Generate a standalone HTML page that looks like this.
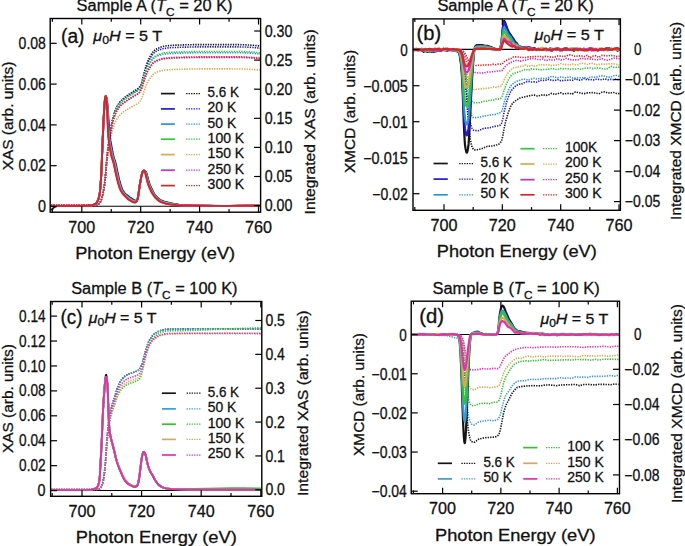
<!DOCTYPE html>
<html><head><meta charset="utf-8"><style>
html,body{margin:0;padding:0;background:#fff;}
svg{display:block;}
text{font-family:"Liberation Sans", sans-serif;fill:#111;stroke:#111;stroke-width:0.3px;}
</style></head><body>
<svg width="685" height="546" viewBox="0 0 685 546">
<rect width="685" height="546" fill="#fff"/>
<line x1="50.9" y1="206.2" x2="259.9" y2="206.2" stroke="#000" stroke-width="1.1"/>
<polyline points="50.9,205.3 64.9,205.3 78.9,205.2 92.9,205.0 96.1,204.9 98.2,204.3 98.9,203.9 99.9,202.6 100.3,202.1 100.6,201.4 101.3,199.6 101.7,198.5 102.0,197.3 102.4,195.9 103.1,192.8 103.4,191.0 103.8,189.0 104.1,186.8 104.5,184.4 104.8,181.6 105.2,178.5 105.5,175.0 105.9,170.8 106.2,166.0 106.6,161.6 106.9,157.8 107.3,154.2 107.6,150.8 108.0,147.7 108.3,144.9 108.7,142.2 109.0,139.7 109.4,137.3 110.1,132.8 111.1,126.7 111.8,122.9 112.5,119.5 112.9,118.0 113.6,115.4 114.6,112.0 115.7,109.1 116.7,106.8 117.8,104.9 119.2,102.8 120.9,100.8 123.0,98.8 126.9,95.7 132.1,92.2 136.7,89.5 138.1,88.5 139.1,87.5 139.8,86.5 140.5,85.2 140.9,84.4 141.6,82.5 142.3,80.2 143.0,77.5 144.4,71.8 145.1,69.4 146.1,65.9 147.2,62.8 147.9,61.0 148.9,58.8 150.3,56.2 152.4,52.6 153.5,51.2 155.2,49.8 157.0,48.7 160.5,47.2 163.6,46.3 167.5,45.7 174.5,45.2 188.5,44.7 202.5,44.6 216.5,44.6 230.5,44.6 243.8,44.7 253.6,45.3 259.9,46.0" fill="none" stroke="#151515" stroke-width="1.6" stroke-linejoin="round" stroke-dasharray="1.35,1.15"/>
<polyline points="50.9,205.3 64.9,205.3 78.9,205.2 92.9,205.0 96.1,204.9 98.2,204.4 98.9,203.9 99.9,202.7 100.3,202.1 100.6,201.4 101.3,199.6 101.7,198.6 102.0,197.4 102.4,196.0 103.1,192.9 103.4,191.1 103.8,189.1 104.1,187.0 104.5,184.6 104.8,181.9 105.2,178.8 105.5,175.3 105.9,171.1 106.2,166.4 106.6,162.0 106.9,158.2 107.3,154.7 107.6,151.4 108.0,148.3 108.3,145.5 108.7,142.8 109.0,140.3 109.7,135.7 110.4,131.5 111.5,125.5 112.2,122.0 112.5,120.3 112.9,118.8 113.6,116.3 114.6,112.9 115.7,110.1 116.7,107.8 117.8,105.9 119.2,103.9 120.9,101.8 123.0,99.8 126.9,96.8 132.1,93.3 136.7,90.7 138.4,89.4 139.1,88.7 139.8,87.7 140.5,86.4 140.9,85.7 141.6,83.8 142.3,81.6 143.0,79.0 144.4,73.4 145.1,71.0 146.5,66.6 147.2,64.6 147.9,62.9 148.9,60.7 150.3,58.2 152.4,54.7 153.5,53.3 155.2,51.9 157.3,50.7 161.2,49.2 164.3,48.4 170.3,47.7 181.5,47.2 195.5,46.9 209.5,46.9 223.5,46.9 237.5,46.9 245.2,47.0 254.3,47.6 259.9,48.2" fill="none" stroke="#2418d0" stroke-width="1.6" stroke-linejoin="round" stroke-dasharray="1.35,1.15"/>
<polyline points="50.9,205.3 64.9,205.3 78.9,205.2 92.9,205.0 96.1,204.9 98.2,204.4 98.9,203.9 99.9,202.7 100.3,202.2 100.6,201.5 101.3,199.7 101.7,198.7 102.0,197.5 102.4,196.1 103.1,193.0 103.4,191.2 103.8,189.3 104.1,187.1 104.5,184.7 104.8,182.1 105.2,179.0 105.5,175.6 105.9,171.4 106.2,166.7 106.6,162.4 106.9,158.6 107.3,155.1 107.6,151.8 108.0,148.8 108.3,146.0 108.7,143.4 109.0,140.9 109.7,136.2 110.4,132.1 111.5,126.2 112.2,122.6 112.5,121.0 112.9,119.5 113.6,117.0 114.6,113.7 115.7,110.9 116.7,108.6 117.8,106.7 119.2,104.7 120.9,102.6 123.0,100.7 126.9,97.7 132.1,94.2 137.0,91.4 138.4,90.4 139.5,89.3 140.5,87.7 140.9,87.0 141.6,85.3 142.3,83.4 143.0,81.1 144.4,76.2 145.4,73.0 146.5,70.1 147.5,67.6 148.6,65.6 150.0,63.2 152.4,59.6 153.5,58.5 155.2,57.2 157.3,56.1 161.2,54.8 164.3,54.1 170.6,53.5 184.6,53.0 198.6,52.7 212.6,52.7 226.6,52.7 240.6,52.7 250.8,53.1 259.2,53.9 259.9,53.9" fill="none" stroke="#2a98cc" stroke-width="1.6" stroke-linejoin="round" stroke-dasharray="1.35,1.15"/>
<polyline points="50.9,205.3 64.9,205.3 78.9,205.2 92.9,205.0 96.1,204.9 98.2,204.4 98.9,203.9 99.9,202.7 100.3,202.2 100.6,201.5 101.3,199.7 101.7,198.6 102.0,197.4 102.4,196.1 103.1,193.0 103.4,191.2 103.8,189.2 104.1,187.1 104.5,184.7 104.8,182.0 105.2,178.9 105.5,175.5 105.9,171.3 106.2,166.6 106.6,162.2 106.9,158.5 107.3,155.0 107.6,151.7 108.0,148.6 108.3,145.8 108.7,143.2 109.0,140.7 109.7,136.0 110.4,131.8 111.5,125.9 112.2,122.4 112.5,120.8 112.9,119.3 113.6,116.7 114.6,113.4 115.7,110.6 116.7,108.3 117.8,106.4 119.2,104.4 120.9,102.3 123.0,100.4 126.9,97.4 132.1,93.9 137.0,91.1 138.4,90.1 139.1,89.4 140.2,87.9 140.9,86.6 141.6,84.9 142.3,82.9 143.0,80.5 144.4,75.5 145.1,73.3 146.5,69.3 147.5,66.7 148.6,64.6 150.0,62.3 152.4,58.6 153.5,57.4 155.2,56.1 157.3,55.0 161.2,53.6 164.3,52.9 170.6,52.3 184.6,51.8 198.6,51.5 212.6,51.5 226.6,51.5 240.6,51.5 250.8,51.9 259.2,52.7 259.9,52.8" fill="none" stroke="#30c83c" stroke-width="1.6" stroke-linejoin="round" stroke-dasharray="1.35,1.15"/>
<polyline points="50.9,205.3 64.9,205.3 78.9,205.3 92.9,205.1 96.1,205.0 98.2,204.5 98.9,204.1 99.9,203.0 100.3,202.5 100.6,201.9 101.3,200.3 101.7,199.4 102.0,198.4 102.4,197.2 103.1,194.4 103.4,192.8 103.8,191.1 104.1,189.1 104.5,187.0 104.8,184.7 105.2,181.9 105.5,178.9 105.9,175.2 106.2,171.0 106.6,167.1 106.9,163.8 107.3,160.7 107.6,157.7 108.0,155.0 108.3,152.5 108.7,150.2 109.4,145.9 110.1,142.0 111.1,136.6 111.8,133.3 112.5,130.3 112.9,129.0 113.6,126.7 114.6,123.8 115.7,121.3 116.7,119.2 117.8,117.6 119.2,115.8 120.9,114.0 123.0,112.2 126.9,109.6 132.5,106.3 137.0,104.0 138.4,103.1 139.5,102.1 140.5,100.6 141.2,99.3 142.3,96.7 143.0,94.6 144.4,90.2 145.4,87.3 146.5,84.7 147.5,82.4 148.6,80.5 150.3,78.0 152.4,75.2 153.5,74.1 155.2,73.0 157.3,72.0 161.5,70.7 165.0,70.1 172.4,69.5 186.4,69.1 200.4,68.9 214.4,68.9 228.4,68.9 242.4,69.0 253.9,69.5 259.9,70.0" fill="none" stroke="#e0a848" stroke-width="1.6" stroke-linejoin="round" stroke-dasharray="1.35,1.15"/>
<polyline points="50.9,205.3 64.9,205.3 78.9,205.2 92.9,205.1 96.1,204.9 98.2,204.4 98.9,203.9 99.9,202.8 100.3,202.3 100.6,201.6 101.3,199.8 101.7,198.8 102.0,197.7 102.4,196.3 103.1,193.3 103.4,191.6 103.8,189.7 104.1,187.6 104.5,185.3 104.8,182.7 105.2,179.6 105.5,176.3 105.9,172.2 106.2,167.7 106.6,163.4 106.9,159.8 107.3,156.3 107.6,153.1 108.0,150.2 108.3,147.4 108.7,144.9 109.0,142.4 109.7,137.9 110.4,133.9 111.5,128.1 112.2,124.7 112.5,123.1 112.9,121.6 113.6,119.1 114.6,115.9 115.7,113.2 116.7,110.9 117.8,109.1 119.2,107.2 120.9,105.2 123.0,103.3 126.9,100.3 132.1,96.9 137.0,94.2 138.4,93.3 139.5,92.2 140.5,90.6 141.2,89.2 141.9,87.4 142.6,85.4 144.4,79.5 145.4,76.4 146.5,73.6 147.5,71.2 148.6,69.2 150.0,67.0 152.4,63.5 153.5,62.4 155.2,61.2 157.3,60.1 161.2,58.9 164.7,58.1 171.7,57.5 185.7,57.1 199.7,56.9 213.7,56.9 227.7,56.9 241.7,56.9 252.9,57.4 259.9,58.0" fill="none" stroke="#cc30c8" stroke-width="1.6" stroke-linejoin="round" stroke-dasharray="1.35,1.15"/>
<polyline points="50.9,205.3 64.9,205.3 78.9,205.2 92.9,205.1 96.1,204.9 98.2,204.4 98.9,203.9 99.9,202.8 100.3,202.3 100.6,201.6 101.3,199.9 101.7,198.9 102.0,197.7 102.4,196.4 103.1,193.3 103.4,191.6 103.8,189.7 104.1,187.6 104.5,185.3 104.8,182.7 105.2,179.7 105.5,176.4 105.9,172.3 106.2,167.8 106.6,163.5 106.9,159.9 107.3,156.5 107.6,153.3 108.0,150.3 108.3,147.6 108.7,145.1 109.0,142.6 109.7,138.2 110.4,134.1 111.5,128.4 112.2,124.9 112.5,123.3 112.9,121.9 113.6,119.4 114.6,116.2 115.7,113.5 116.7,111.2 117.8,109.4 119.2,107.5 120.9,105.5 123.0,103.6 126.9,100.7 132.1,97.3 137.0,94.6 138.4,93.6 139.5,92.6 140.5,91.0 141.2,89.6 141.9,87.8 142.6,85.8 144.4,79.9 145.4,76.9 146.5,74.1 147.5,71.7 148.6,69.7 150.0,67.5 152.4,64.1 153.5,62.9 155.2,61.7 157.3,60.7 161.5,59.3 164.7,58.7 171.7,58.1 185.7,57.6 199.7,57.4 213.7,57.4 227.7,57.4 241.7,57.4 252.9,57.9 259.9,58.6" fill="none" stroke="#d42828" stroke-width="1.6" stroke-linejoin="round" stroke-dasharray="1.35,1.15"/>
<polyline points="50.9,209.8 51.6,209.5 53.0,208.4 54.4,207.1 55.5,206.5 56.9,206.1 60.0,206.0 74.0,206.0 88.0,205.8 90.8,205.5 93.6,204.8 95.0,204.1 96.1,203.4 96.8,202.5 97.5,201.2 98.2,199.6 98.5,198.7 98.9,197.5 99.2,196.1 99.6,194.4 99.9,192.0 100.3,188.4 100.6,184.0 101.0,179.2 101.3,173.2 101.7,165.3 102.0,156.6 102.4,148.1 102.7,139.4 103.1,131.3 103.4,123.7 103.8,116.6 104.1,110.6 104.5,105.5 104.8,101.2 105.2,98.4 105.5,96.5 105.9,96.0 106.2,96.8 106.6,98.1 106.9,101.1 107.3,105.2 107.6,109.7 108.0,115.8 108.3,122.5 108.7,128.0 109.0,132.4 109.4,136.3 109.7,139.3 110.1,141.5 110.8,145.1 111.8,150.9 112.5,154.3 112.9,155.8 113.2,157.1 114.3,160.2 115.0,162.6 115.3,163.9 115.7,165.5 116.7,170.6 118.1,176.9 118.8,179.8 119.9,183.8 120.6,186.1 121.3,188.2 122.0,189.8 123.0,191.7 124.1,193.2 125.1,194.3 127.6,196.3 129.3,197.7 131.4,199.0 132.8,200.1 134.9,201.1 135.3,201.1 136.0,200.9 136.7,200.4 137.0,199.9 137.4,199.2 137.7,198.2 138.1,196.7 138.8,191.8 139.8,184.8 140.2,182.7 140.9,178.8 141.2,177.1 141.6,175.6 142.3,173.1 142.6,172.1 143.0,171.5 143.7,170.8 144.0,170.6 144.4,170.6 144.7,170.9 145.4,171.8 145.8,172.3 146.1,173.3 147.5,178.1 148.6,182.0 148.9,183.2 149.6,185.1 150.7,187.5 152.8,191.9 153.8,193.7 155.2,195.7 156.6,197.3 158.7,199.2 160.8,200.6 162.6,201.5 167.8,202.9 174.1,204.2 180.8,205.1 187.4,205.5 201.4,205.8 215.4,205.9 229.4,205.9 243.4,205.8 257.4,205.6 259.9,205.6" fill="none" stroke="#151515" stroke-width="1.9" stroke-linejoin="round"/>
<polyline points="50.9,205.9 64.9,206.0 78.9,206.0 89.1,205.7 92.2,205.2 94.0,204.7 95.4,203.9 96.1,203.4 96.8,202.5 97.5,201.2 98.2,199.6 98.5,198.7 98.9,197.5 99.2,196.1 99.6,194.4 99.9,192.0 100.3,188.4 100.6,184.0 101.0,179.2 101.3,173.2 101.7,165.3 102.0,156.7 102.4,148.2 102.7,139.5 103.1,131.4 103.4,123.9 103.8,116.8 104.1,110.8 104.5,105.8 104.8,101.7 105.2,99.2 105.5,97.8 105.9,97.5 106.6,98.6 106.9,100.2 107.3,103.2 107.6,106.8 108.0,110.8 108.3,116.0 108.7,121.6 109.0,126.6 109.4,130.7 109.7,134.6 110.1,137.9 110.4,140.4 110.8,142.5 111.5,146.1 112.2,150.0 112.5,151.8 113.2,155.1 113.6,156.6 113.9,157.7 114.6,159.7 115.3,162.0 115.7,163.3 116.0,164.8 116.7,168.1 117.4,171.5 118.8,177.8 119.5,180.6 120.6,184.4 121.3,186.7 121.6,187.7 122.3,189.4 123.4,191.4 124.4,192.9 125.5,193.9 127.9,195.7 129.7,197.2 131.4,198.3 133.2,199.7 134.9,200.6 135.3,200.7 136.0,200.6 136.7,200.1 137.0,199.7 137.4,198.9 137.7,198.0 138.1,196.5 138.8,191.7 139.8,184.7 140.2,182.7 140.9,178.9 141.2,177.2 141.6,175.7 142.3,173.2 142.6,172.2 143.0,171.5 143.7,170.8 144.0,170.6 144.4,170.6 144.7,170.7 145.4,171.4 146.1,172.4 146.5,173.3 147.5,176.7 148.2,179.2 148.9,181.9 149.3,183.1 150.0,185.0 151.0,187.4 153.5,192.4 154.5,194.1 155.9,196.0 157.3,197.5 159.8,199.5 161.9,200.7 163.6,201.4 171.7,203.4 178.7,204.7 183.9,205.3 193.7,205.7 207.7,205.8 221.7,205.9 235.7,205.9 249.7,205.7 259.9,205.6" fill="none" stroke="#2418d0" stroke-width="1.9" stroke-linejoin="round"/>
<polyline points="50.9,205.9 64.9,206.0 78.9,206.0 89.1,205.7 92.2,205.2 94.0,204.7 95.4,203.9 96.1,203.4 96.8,202.5 97.5,201.2 98.2,199.6 98.5,198.7 98.9,197.5 99.2,196.1 99.6,194.4 99.9,192.0 100.3,188.4 100.6,184.0 101.0,179.2 101.3,173.2 101.7,165.3 102.0,156.6 102.4,148.0 102.7,139.3 103.1,131.2 103.4,123.6 103.8,116.5 104.1,110.5 104.5,105.4 104.8,101.1 105.2,98.3 105.5,96.4 105.9,96.1 106.2,96.9 106.6,98.5 106.9,101.9 107.3,106.5 107.6,111.9 108.0,119.1 108.3,126.0 108.7,131.0 109.0,135.4 109.4,138.8 109.7,141.2 110.1,143.1 110.4,144.9 111.5,150.6 111.8,152.4 112.5,155.6 112.9,156.9 113.2,158.0 113.9,160.0 114.6,162.4 115.0,163.7 115.3,165.2 116.7,172.0 118.1,178.2 118.8,181.0 119.9,184.8 120.6,187.1 120.9,188.1 121.6,189.7 122.7,191.7 123.7,193.3 124.8,194.4 127.6,196.8 129.0,198.0 131.4,199.5 132.8,200.5 134.9,201.4 135.3,201.4 136.0,201.2 136.7,200.6 137.0,200.1 137.4,199.3 137.7,198.3 138.1,196.8 138.8,191.9 139.8,184.8 140.2,182.7 140.9,178.8 141.2,177.1 141.6,175.6 142.3,173.0 142.6,172.0 143.0,171.4 143.7,170.7 144.0,170.6 144.4,170.7 144.7,171.0 145.4,172.0 145.8,172.7 146.1,173.8 147.5,178.9 148.2,181.6 148.6,182.9 148.9,183.9 149.6,185.7 151.7,190.2 152.8,192.4 153.8,194.1 155.2,196.1 156.6,197.7 159.1,199.8 161.2,201.1 162.9,201.8 167.8,203.1 173.8,204.3 180.8,205.1 188.1,205.5 202.1,205.8 216.1,205.9 230.1,205.9 244.1,205.8 258.1,205.6 259.9,205.6" fill="none" stroke="#2a98cc" stroke-width="1.9" stroke-linejoin="round"/>
<polyline points="50.9,205.9 64.9,206.0 78.9,206.0 89.1,205.7 92.2,205.2 94.0,204.7 95.4,203.9 96.1,203.4 96.8,202.5 97.5,201.2 98.2,199.6 98.5,198.7 98.9,197.5 99.2,196.1 99.6,194.4 99.9,192.0 100.3,188.4 100.6,184.0 101.0,179.2 101.3,173.1 101.7,165.3 102.0,156.5 102.4,148.0 102.7,139.3 103.1,131.2 103.4,123.6 103.8,116.5 104.1,110.4 104.5,105.3 104.8,101.0 105.2,98.2 105.5,96.4 105.9,96.1 106.2,97.0 106.6,98.8 106.9,102.6 107.3,107.4 107.6,113.6 108.0,121.3 108.3,127.9 108.7,132.9 109.0,137.1 109.4,140.1 109.7,142.2 110.4,145.9 111.1,149.8 111.5,151.6 112.2,154.9 112.5,156.4 112.9,157.6 113.6,159.6 114.3,161.9 114.6,163.1 115.0,164.6 115.7,167.9 116.4,171.3 117.8,177.6 118.5,180.4 119.5,184.3 120.2,186.6 120.6,187.7 121.3,189.4 122.3,191.5 123.4,193.1 124.4,194.3 127.6,197.1 129.0,198.3 131.4,199.7 132.8,200.7 134.9,201.5 135.3,201.6 136.0,201.3 136.7,200.7 137.0,200.2 137.4,199.4 137.7,198.4 138.1,196.8 138.8,191.9 139.8,184.8 140.2,182.7 140.9,178.8 141.2,177.1 141.6,175.6 142.3,172.9 142.6,172.0 143.0,171.4 143.7,170.7 144.0,170.6 144.4,170.7 144.7,171.1 145.4,172.1 145.8,173.0 146.8,176.8 148.2,182.2 148.6,183.4 149.3,185.3 150.3,187.6 152.4,192.0 153.5,193.9 154.9,195.9 156.3,197.5 158.4,199.4 160.5,200.9 162.2,201.8 166.8,203.0 172.0,204.1 179.7,205.1 186.4,205.5 200.4,205.8 214.4,205.9 228.4,205.9 242.4,205.8 256.4,205.7 259.9,205.6" fill="none" stroke="#30c83c" stroke-width="1.9" stroke-linejoin="round"/>
<polyline points="50.9,205.9 64.9,206.0 78.9,206.0 89.1,205.7 92.2,205.2 94.0,204.7 95.4,203.9 96.1,203.4 96.8,202.5 97.5,201.2 98.2,199.6 98.5,198.7 98.9,197.5 99.2,196.1 99.6,194.4 99.9,192.0 100.3,188.3 100.6,184.0 101.0,179.2 101.3,173.1 101.7,165.2 102.0,156.5 102.4,147.9 102.7,139.2 103.1,131.0 103.4,123.4 103.8,116.3 104.1,110.3 104.5,105.3 104.8,101.3 105.2,98.8 105.5,97.2 105.9,97.1 106.2,98.0 106.6,100.0 106.9,104.4 107.3,109.9 108.0,126.3 108.3,132.2 108.7,137.0 109.0,140.3 109.4,142.6 110.8,150.5 111.1,152.3 111.8,155.5 112.2,156.9 112.5,158.0 113.2,160.0 113.9,162.4 114.3,163.7 114.6,165.2 116.0,172.0 117.4,178.2 118.1,181.0 119.2,184.8 119.9,187.1 120.2,188.1 120.9,189.7 122.0,191.8 123.0,193.4 124.1,194.6 126.5,196.9 128.3,198.6 132.8,201.4 134.6,202.0 135.3,202.1 136.0,201.7 136.7,201.1 137.0,200.5 137.4,199.7 137.7,198.6 138.1,197.0 138.8,192.0 139.8,184.8 140.2,182.7 140.9,178.8 141.2,177.0 141.9,174.1 142.3,172.8 142.6,171.9 143.0,171.3 143.3,170.9 143.7,170.7 144.0,170.6 144.4,170.8 145.1,171.9 145.4,172.7 145.8,173.9 147.2,179.4 147.9,182.2 148.2,183.4 148.9,185.4 150.0,187.8 152.1,192.2 153.1,194.0 154.5,196.0 155.9,197.7 158.0,199.6 160.1,201.2 161.9,202.0 166.1,203.3 170.6,204.2 179.0,205.1 186.7,205.5 200.7,205.8 214.7,205.9 228.7,205.9 242.7,205.8 256.7,205.7 259.9,205.6" fill="none" stroke="#e0a848" stroke-width="1.9" stroke-linejoin="round"/>
<polyline points="50.9,205.9 64.9,206.0 78.9,206.0 89.1,205.7 92.2,205.2 94.0,204.7 95.4,203.9 96.1,203.4 96.8,202.5 97.5,201.2 98.2,199.6 98.5,198.7 98.9,197.5 99.2,196.1 99.6,194.4 99.9,192.0 100.3,188.3 100.6,184.0 101.0,179.2 101.3,173.1 101.7,165.2 102.0,156.5 102.4,147.9 102.7,139.1 103.1,131.0 103.4,123.3 103.8,116.2 104.1,110.1 104.5,104.9 104.8,100.6 105.2,97.9 105.5,96.2 105.9,96.3 106.2,97.4 106.6,100.2 106.9,105.2 107.3,111.6 107.6,120.7 108.0,128.6 108.3,134.5 108.7,138.9 109.0,141.7 109.4,143.9 110.4,150.0 110.8,151.9 111.5,155.3 111.8,156.7 112.2,157.9 112.9,159.9 113.6,162.2 113.9,163.5 114.3,165.0 115.7,171.8 117.1,178.0 117.8,180.8 118.8,184.7 119.5,187.0 119.9,188.0 120.6,189.6 121.6,191.7 122.7,193.3 123.7,194.6 126.2,197.0 127.9,198.8 129.3,199.8 132.5,201.7 134.6,202.3 135.3,202.3 136.0,202.0 136.7,201.3 137.0,200.7 137.4,199.8 137.7,198.8 138.1,197.2 138.8,192.1 139.8,184.9 140.2,182.7 140.9,178.7 141.2,177.0 141.9,174.0 142.3,172.8 142.6,171.8 143.3,170.9 143.7,170.6 144.0,170.6 144.4,170.9 145.1,172.1 145.4,173.1 146.8,178.7 147.5,181.7 147.9,183.0 148.2,184.1 148.9,185.9 151.0,190.5 152.1,192.7 153.1,194.4 154.5,196.4 155.9,198.0 158.4,200.2 160.5,201.6 162.2,202.4 166.1,203.6 170.3,204.4 178.7,205.2 187.1,205.5 201.1,205.8 215.1,205.9 229.1,205.9 243.1,205.8 257.1,205.6 259.9,205.6" fill="none" stroke="#cc30c8" stroke-width="1.9" stroke-linejoin="round"/>
<polyline points="50.9,205.9 64.9,206.0 78.9,206.0 89.1,205.7 92.2,205.2 94.0,204.7 95.4,203.9 96.1,203.4 96.8,202.5 97.5,201.2 98.2,199.6 98.5,198.7 98.9,197.5 99.2,196.1 99.6,194.3 99.9,192.0 100.3,188.3 100.6,184.0 101.0,179.2 101.3,173.1 101.7,165.2 102.0,156.4 102.4,147.8 102.7,139.1 103.1,130.9 103.4,123.2 103.8,116.1 104.1,110.0 104.5,104.8 104.8,100.5 105.2,97.8 105.5,96.1 105.9,96.3 106.2,97.6 106.6,100.8 106.9,106.3 107.3,113.6 107.6,123.4 108.0,130.8 108.3,136.6 108.7,140.4 109.0,142.9 110.1,149.4 110.4,151.4 110.8,153.3 111.1,154.9 111.5,156.4 111.8,157.7 112.5,159.7 113.2,162.0 113.6,163.3 113.9,164.8 114.6,168.1 115.3,171.5 116.7,177.8 117.4,180.6 118.5,184.5 119.2,186.8 119.5,187.8 120.2,189.5 121.3,191.6 122.3,193.3 123.4,194.5 125.8,197.1 127.6,198.9 129.0,199.9 132.5,202.0 134.6,202.6 135.3,202.6 136.0,202.1 136.7,201.4 137.0,200.8 137.4,199.9 137.7,198.9 138.1,197.2 138.8,192.2 139.8,184.9 140.2,182.7 140.9,178.7 141.2,176.9 141.9,174.0 142.3,172.7 142.6,171.8 143.3,170.9 143.7,170.6 144.0,170.7 144.4,171.0 144.7,171.6 145.1,172.3 145.4,173.5 146.8,179.5 147.5,182.4 147.9,183.6 148.6,185.6 149.6,188.0 151.7,192.5 152.8,194.3 154.2,196.3 155.6,198.0 158.0,200.2 160.1,201.7 161.9,202.5 165.7,203.7 169.6,204.4 177.6,205.2 186.4,205.5 200.4,205.8 214.4,205.9 228.4,205.9 242.4,205.8 256.4,205.7 259.9,205.6" fill="none" stroke="#d42828" stroke-width="1.9" stroke-linejoin="round"/>
<line x1="413.7" y1="49.4" x2="619.7" y2="49.4" stroke="#000" stroke-width="1.1"/>
<polyline points="413.7,48.8 418.5,48.9 420.3,49.0 422.7,49.3 426.0,49.2 432.3,49.5 437.4,49.4 441.3,49.1 446.7,49.2 452.1,49.5 455.4,49.2 457.5,49.6 458.7,50.1 459.3,50.5 459.9,51.2 461.1,53.1 461.4,53.8 461.7,54.7 462.3,56.9 462.6,58.2 462.9,59.6 463.2,61.3 463.5,63.2 463.8,65.4 464.1,68.0 464.4,71.0 465.0,77.8 465.3,81.3 465.6,85.1 466.2,93.0 467.1,105.4 467.4,109.3 467.7,113.0 468.0,116.5 468.6,123.2 469.2,129.7 469.5,132.7 469.8,135.2 470.1,137.5 470.4,139.6 470.7,141.4 471.0,143.0 471.6,145.5 471.9,146.6 472.2,147.5 472.5,148.0 473.4,149.3 474.0,149.8 474.6,149.9 477.9,149.6 481.2,148.9 487.2,146.4 493.2,145.9 497.1,144.7 499.2,143.9 500.1,143.1 500.7,142.3 501.3,141.2 501.6,140.5 501.9,139.5 502.5,137.0 502.8,135.6 504.0,129.0 504.9,124.8 506.1,120.0 507.0,116.8 508.2,113.0 509.7,108.8 510.3,107.3 510.9,106.0 511.8,104.5 513.0,102.9 513.9,102.0 515.4,100.9 516.9,100.0 519.3,98.3 519.9,98.1 523.2,97.1 525.6,96.8 528.9,95.8 532.2,95.3 534.3,95.1 537.3,96.0 540.3,95.5 543.0,94.7 546.0,95.5 549.3,94.4 551.7,93.3 552.0,93.3 554.7,94.3 555.9,94.1 558.6,93.4 560.7,92.8 563.7,94.0 566.7,93.4 569.7,93.4 572.4,94.0 575.4,92.0 582.6,93.4 584.4,93.6 587.4,92.9 591.3,92.7 593.1,92.6 598.8,93.7 599.7,93.4 601.8,92.3 604.8,91.7 607.8,93.0 611.4,92.8 613.5,92.5 616.5,93.5 619.5,93.6" fill="none" stroke="#151515" stroke-width="1.6" stroke-linejoin="round" stroke-dasharray="1.35,1.15"/>
<polyline points="413.7,49.2 417.0,49.7 419.7,49.6 422.7,49.0 427.5,49.1 429.0,49.1 431.7,49.4 434.7,49.3 437.1,49.5 440.1,48.7 443.1,49.9 446.1,49.3 449.1,49.6 453.0,49.4 455.4,49.4 457.5,50.0 459.3,50.6 460.2,51.4 461.1,52.6 461.4,53.2 461.7,53.9 462.3,55.8 462.6,56.8 462.9,58.0 463.2,59.4 463.5,61.0 463.8,62.7 464.1,64.8 464.4,67.2 465.0,72.6 465.3,75.4 465.9,81.5 466.5,88.0 467.1,94.7 467.4,97.9 468.0,103.7 468.6,109.2 469.2,114.5 469.5,116.9 469.8,118.9 470.1,120.8 470.4,122.4 470.7,123.9 471.0,125.2 471.6,127.2 471.9,128.0 472.2,128.7 472.8,129.5 473.7,130.3 474.3,130.6 475.8,130.5 478.2,130.8 479.4,130.4 483.6,128.5 484.5,128.3 488.1,128.0 490.5,127.5 495.9,126.1 499.2,125.7 500.1,125.2 500.7,124.6 501.3,123.7 501.6,123.1 501.9,122.3 502.5,120.0 502.8,118.7 504.0,112.8 504.9,108.9 506.1,104.2 507.0,100.9 507.6,99.0 508.2,97.3 510.0,93.0 510.6,91.9 511.8,90.0 513.0,88.6 515.4,86.2 516.6,85.2 519.0,84.3 519.9,84.0 520.2,84.1 522.6,83.6 525.3,82.2 528.3,81.5 531.3,82.0 534.3,81.8 537.0,82.2 537.3,82.1 540.0,80.4 540.9,80.4 543.3,80.5 546.3,80.1 549.0,79.3 552.0,80.4 554.7,80.5 557.7,79.5 560.7,80.8 564.3,80.4 569.7,80.0 572.4,80.4 575.4,78.8 578.4,80.1 581.1,80.1 581.7,79.8 584.1,78.5 584.4,78.5 587.1,79.8 590.1,79.4 593.1,80.1 596.1,79.2 601.8,79.7 604.8,78.8 607.8,79.8 610.8,79.3 613.5,79.6 616.5,78.9 619.5,80.0" fill="none" stroke="#2418d0" stroke-width="1.6" stroke-linejoin="round" stroke-dasharray="1.35,1.15"/>
<polyline points="413.7,49.2 417.0,49.6 422.7,49.5 425.4,49.8 428.4,48.8 431.7,49.0 434.4,48.8 440.4,49.6 443.4,49.3 446.1,49.5 449.1,48.7 452.1,49.4 454.8,49.1 456.9,50.0 457.8,50.4 459.3,50.7 460.2,51.2 461.1,52.2 461.4,52.7 462.0,54.1 462.6,55.9 462.9,56.9 463.2,58.1 463.5,59.5 463.8,60.9 464.1,62.7 464.4,64.6 465.0,69.1 465.3,71.4 465.9,76.5 466.5,81.8 467.1,87.5 467.4,90.1 468.0,95.0 468.9,101.8 469.2,104.0 469.5,106.1 469.8,107.8 470.1,109.4 470.4,110.9 470.7,112.2 471.0,113.2 471.6,115.0 471.9,115.8 472.2,116.4 472.5,116.9 473.4,117.6 474.0,117.9 477.3,117.6 481.2,116.8 484.5,115.9 490.8,115.0 493.2,114.5 495.9,114.4 498.6,113.1 498.9,113.0 499.8,112.8 500.7,112.4 501.3,111.8 501.6,111.4 501.9,110.8 502.5,108.9 503.1,106.7 504.0,103.1 504.9,100.0 506.4,95.5 507.3,93.1 508.5,90.3 510.0,87.2 510.6,86.1 511.5,85.1 513.0,83.8 515.7,81.9 517.5,81.1 520.5,80.1 522.6,79.3 525.3,79.2 528.3,80.2 531.9,78.9 534.3,78.2 537.0,79.1 537.6,79.0 540.0,78.3 543.3,78.5 546.0,78.4 549.3,77.3 551.7,76.3 552.0,76.2 555.0,77.2 557.7,77.7 560.7,77.0 564.9,77.6 566.7,77.8 569.4,76.8 570.0,76.9 572.4,77.9 575.4,78.2 578.7,77.8 584.4,77.8 587.1,78.6 590.1,77.1 593.4,77.0 596.1,77.3 599.1,76.2 601.8,75.8 605.1,76.3 607.8,77.1 610.8,77.1 613.5,75.7 616.5,75.4 619.5,76.5" fill="none" stroke="#2a98cc" stroke-width="1.6" stroke-linejoin="round" stroke-dasharray="1.35,1.15"/>
<polyline points="413.7,49.8 416.7,48.2 419.4,49.5 420.0,49.5 422.7,49.3 425.7,49.6 428.4,49.4 431.4,49.9 434.7,49.2 437.4,49.1 440.4,49.5 444.0,49.4 446.7,49.2 449.7,49.3 452.4,49.6 455.4,49.6 457.8,49.5 459.3,49.8 460.2,50.3 461.1,51.1 461.7,51.9 462.6,53.7 462.9,54.4 463.5,56.3 463.8,57.5 464.1,58.9 464.4,60.6 465.0,64.4 465.6,68.4 466.5,75.0 467.1,79.3 467.7,83.1 468.3,86.6 469.2,91.5 469.8,94.4 470.4,96.9 470.7,97.9 471.3,99.6 471.9,101.0 472.2,101.5 472.5,101.9 473.7,102.6 474.6,102.7 475.8,102.6 478.2,102.9 481.2,102.2 484.2,101.2 487.2,101.2 490.2,100.0 492.9,100.4 493.5,100.2 495.9,99.1 499.2,99.1 500.4,98.6 501.3,97.8 501.6,97.4 501.9,96.9 502.5,95.4 503.1,93.5 504.0,90.6 505.2,87.1 506.7,83.3 507.6,81.3 508.8,79.1 510.3,76.6 511.2,75.5 512.7,74.2 513.9,73.5 516.0,72.7 519.9,71.4 520.2,71.5 523.5,70.0 525.3,69.4 526.2,69.6 528.3,70.4 531.3,68.8 534.3,69.3 537.3,69.1 540.0,69.9 543.3,69.5 546.6,69.4 549.3,69.1 552.0,68.4 555.9,69.3 557.7,69.6 560.7,68.5 563.7,68.9 566.7,68.4 569.7,69.2 572.7,68.9 575.7,69.0 578.4,68.7 581.1,69.5 581.4,69.5 584.1,68.2 589.2,68.0 590.1,67.9 593.1,68.7 596.1,67.9 599.1,67.9 602.1,68.8 604.8,69.0 607.8,68.6 610.5,66.4 610.8,66.3 613.5,67.4 619.5,67.3" fill="none" stroke="#30c83c" stroke-width="1.6" stroke-linejoin="round" stroke-dasharray="1.35,1.15"/>
<polyline points="413.7,49.4 417.0,48.8 420.3,48.5 422.4,48.2 426.0,49.2 428.4,49.6 431.7,49.3 437.4,49.6 440.1,49.0 443.1,50.2 446.1,49.0 449.4,49.6 451.8,50.2 453.3,49.8 454.8,49.3 459.3,49.7 460.5,50.2 461.1,50.6 461.7,51.4 462.6,52.9 463.2,54.3 463.8,56.0 464.1,56.9 464.7,59.2 465.3,61.7 466.2,66.0 466.5,67.5 467.1,70.9 467.7,74.0 468.6,78.2 469.2,80.8 469.8,83.2 470.4,85.1 470.7,85.9 471.3,87.3 471.9,88.4 472.5,89.2 473.7,89.6 474.6,89.6 478.8,89.1 484.2,88.5 488.1,88.1 490.2,88.0 493.2,86.9 495.9,87.3 499.2,86.5 500.4,86.3 501.3,85.8 501.6,85.6 501.9,85.2 502.8,83.4 504.3,79.8 506.1,76.2 507.3,74.0 508.2,72.7 510.3,70.4 512.4,68.7 513.6,67.9 515.7,67.5 516.6,67.4 519.6,66.4 522.3,66.5 522.6,66.4 525.3,64.9 525.6,65.0 528.3,66.6 531.3,65.2 534.3,66.2 537.3,65.7 540.0,64.4 540.6,64.5 543.0,65.2 546.0,64.5 552.0,65.6 555.0,65.0 557.7,65.2 560.7,63.6 563.7,64.5 567.0,64.7 569.4,65.1 571.5,64.3 572.4,63.9 575.4,64.7 578.4,64.6 581.1,63.3 581.7,63.3 584.4,63.6 587.1,64.6 590.1,63.5 593.1,63.4 595.8,64.8 596.4,64.8 602.1,64.1 605.1,64.2 608.7,63.9 613.5,63.8 619.5,65.0" fill="none" stroke="#e0a848" stroke-width="1.6" stroke-linejoin="round" stroke-dasharray="1.35,1.15"/>
<polyline points="413.7,48.7 417.3,49.0 419.7,49.3 422.7,49.0 426.3,49.4 428.4,49.5 431.4,48.7 434.4,49.5 437.1,49.0 440.1,49.9 446.1,49.1 449.7,49.3 455.4,49.5 458.1,49.9 459.9,50.0 460.8,50.2 461.7,50.8 462.9,52.2 463.8,53.7 464.4,55.0 465.3,57.2 466.5,60.7 467.4,63.5 468.3,65.9 469.5,68.8 470.1,69.8 470.7,70.7 471.6,71.5 472.2,71.9 474.0,72.4 475.8,72.5 478.5,73.0 483.9,72.9 484.8,72.7 487.2,72.0 490.5,72.0 493.5,71.6 496.2,71.5 498.9,70.7 500.7,70.9 501.6,70.8 501.9,70.7 503.1,69.2 504.6,67.1 505.8,65.9 507.6,64.3 510.3,62.6 512.7,61.7 514.2,61.1 516.6,60.2 519.6,60.8 519.9,60.7 520.2,61.1 522.9,60.5 525.6,60.1 529.8,58.9 531.6,58.6 534.3,58.5 537.3,59.5 540.3,59.6 543.0,59.0 546.0,60.7 549.0,59.6 552.0,60.0 554.7,59.9 557.7,58.5 560.7,59.9 563.7,59.5 566.4,58.3 566.7,58.3 569.4,59.6 573.0,59.9 578.4,59.8 581.1,58.2 581.4,58.2 584.4,58.9 587.4,58.8 590.4,59.1 593.1,59.2 596.1,59.9 599.1,59.5 601.8,58.5 604.8,59.7 607.8,60.2 611.1,59.1 613.5,58.0 614.7,58.2 617.4,58.6 619.5,58.9" fill="none" stroke="#cc30c8" stroke-width="1.6" stroke-linejoin="round" stroke-dasharray="1.35,1.15"/>
<polyline points="413.7,49.0 417.3,49.5 423.3,49.6 425.4,49.8 428.4,49.1 431.4,49.4 437.4,48.7 443.1,49.3 446.1,48.9 450.3,49.4 452.1,49.6 456.0,49.5 459.9,49.7 461.4,50.0 462.6,50.7 463.5,51.5 464.4,52.6 465.6,54.6 466.5,56.3 467.7,59.2 469.2,62.3 469.5,62.9 470.1,63.6 471.0,64.2 472.2,64.6 472.5,64.6 474.3,65.3 475.8,65.5 485.1,65.0 487.5,64.8 490.2,65.1 493.2,64.2 495.9,64.8 498.3,64.0 498.9,63.8 501.0,64.2 501.9,64.1 503.1,63.0 504.6,61.4 505.5,60.8 507.6,59.7 510.9,58.6 513.6,56.8 518.4,57.0 519.9,57.0 520.2,57.3 525.0,57.5 525.9,57.4 528.6,56.9 532.2,56.7 534.6,56.5 538.2,56.5 540.3,56.5 543.0,57.0 546.0,56.4 549.6,56.8 552.0,57.3 555.0,56.9 557.7,55.9 561.0,56.1 563.7,56.6 569.1,54.9 569.7,54.9 572.7,55.5 575.4,56.5 578.7,55.9 581.4,55.9 584.1,56.6 585.0,56.3 587.1,55.4 588.6,56.5 590.1,57.7 593.1,56.1 595.8,55.8 596.4,56.1 598.8,57.4 599.1,57.3 601.8,55.3 607.8,56.0 610.8,55.4 614.7,56.0 616.5,56.4 619.5,56.1" fill="none" stroke="#d42828" stroke-width="1.6" stroke-linejoin="round" stroke-dasharray="1.35,1.15"/>
<polyline points="413.7,50.4 415.8,50.0 417.6,49.1 420.0,49.8 421.5,49.9 422.1,50.4 423.6,51.8 425.4,50.3 425.7,50.3 427.5,51.8 429.6,51.3 431.4,51.8 432.9,51.3 433.5,51.1 435.9,51.1 437.7,50.8 439.5,50.3 441.6,50.3 443.4,50.0 447.3,50.7 449.4,49.8 451.5,50.1 453.3,50.7 454.8,50.1 455.1,50.7 458.1,51.7 458.4,51.9 458.7,52.2 459.0,52.9 459.3,53.8 459.6,54.9 459.9,56.3 460.2,58.2 460.5,60.3 460.8,62.7 461.1,65.5 461.4,68.7 461.7,72.5 462.0,76.9 462.3,82.2 462.6,89.6 463.2,106.7 463.5,115.8 463.8,123.6 464.1,129.9 464.4,135.9 464.7,140.9 465.0,144.8 465.3,147.1 465.6,148.9 465.9,150.4 466.2,151.7 466.5,152.5 466.8,152.7 467.1,152.4 467.4,151.5 467.7,150.1 468.0,148.4 468.3,146.5 468.6,143.7 468.9,139.6 469.2,134.6 469.8,123.7 470.1,117.9 470.7,105.1 471.0,99.0 471.3,93.0 471.6,87.2 471.9,81.7 472.2,76.6 472.5,71.8 472.8,67.3 473.1,63.2 473.7,55.7 474.0,52.4 474.3,49.9 474.6,48.5 474.9,47.5 475.2,46.7 475.5,46.3 476.4,45.4 477.0,45.0 478.2,45.0 481.8,45.1 484.5,45.6 487.2,45.9 490.8,47.0 495.0,48.9 496.5,49.4 499.2,49.4 499.5,49.4 500.1,48.4 500.4,47.6 500.7,46.6 501.0,45.1 501.3,43.2 501.6,40.9 501.9,37.8 502.2,34.4 502.8,28.1 503.1,25.4 503.4,23.7 503.7,22.1 504.0,21.0 504.3,20.9 504.6,21.5 505.2,22.8 506.7,26.8 507.6,29.5 508.2,30.9 508.8,32.0 511.5,36.0 512.7,37.8 514.5,40.9 515.7,42.2 516.6,43.1 518.1,45.4 518.7,46.1 520.5,47.3 521.4,47.4 522.6,47.1 524.4,48.6 524.7,48.6 526.5,47.2 527.7,47.1 528.6,47.2 530.1,47.6 531.0,48.0 532.5,48.6 534.3,48.1 534.6,48.2 536.4,49.6 538.2,48.8 538.5,48.8 540.3,49.6 542.4,48.6 544.5,49.6 546.3,50.0 548.1,49.8 549.0,49.2 550.2,48.4 552.3,49.4 554.1,49.2 556.2,50.1 558.0,49.7 558.6,49.8 560.1,50.5 562.8,49.3 564.0,48.8 566.1,48.9 567.9,50.0 568.2,50.0 570.0,48.9 572.1,49.6 573.9,50.7 574.5,50.4 576.0,49.4 577.8,48.9 578.4,49.1 579.9,49.9 582.0,49.6 583.8,48.8 584.7,49.2 585.9,49.9 588.0,49.6 589.8,49.8 591.6,49.1 591.9,49.1 593.7,50.1 594.9,49.5 595.8,49.1 597.6,50.1 597.9,50.1 599.7,48.8 601.8,49.6 603.6,49.6 605.7,48.6 607.5,48.3 609.3,48.9 609.9,49.0 613.5,49.0 615.6,49.4 617.4,50.7 617.7,50.7 619.5,49.5" fill="none" stroke="#151515" stroke-width="2.2" stroke-linejoin="round"/>
<polyline points="413.7,49.2 417.0,49.9 417.6,50.0 419.7,49.3 421.5,50.4 422.7,50.5 423.6,50.5 425.7,51.1 427.5,51.0 429.6,51.6 431.4,50.5 431.7,50.6 433.5,52.0 435.6,51.3 437.4,50.1 439.5,50.6 441.3,50.2 443.4,48.7 445.2,49.8 445.5,49.9 447.3,49.2 449.7,49.6 451.5,49.7 453.9,50.2 455.7,50.7 458.1,51.3 458.7,51.6 459.0,52.2 459.3,52.9 459.6,53.9 459.9,55.1 460.2,56.7 460.5,58.5 460.8,60.5 461.1,62.8 461.4,65.5 461.7,68.7 462.0,72.3 462.3,76.7 462.6,82.9 463.2,97.1 463.5,104.7 463.8,111.2 464.1,116.4 464.4,121.3 464.7,125.5 465.0,128.7 465.3,130.6 465.6,132.1 465.9,133.4 466.2,134.4 466.5,135.1 466.8,135.3 467.1,135.1 467.4,134.3 467.7,133.2 468.0,131.8 468.3,130.3 468.6,128.0 468.9,124.6 469.2,120.5 469.8,111.4 470.1,106.6 470.7,95.9 471.3,85.8 471.6,81.0 471.9,76.3 472.2,72.1 472.5,68.1 472.8,64.3 473.1,60.9 473.7,54.7 474.0,51.8 474.3,49.8 474.6,48.6 474.9,47.8 475.2,47.1 475.5,46.7 476.4,46.0 477.3,45.7 481.8,46.0 483.9,46.1 487.5,46.5 489.6,47.0 491.1,47.3 495.6,49.2 496.8,49.5 499.5,49.3 499.8,48.9 500.1,48.4 500.4,47.7 500.7,46.9 501.0,45.4 501.3,43.6 501.6,41.4 501.9,38.4 502.2,35.3 502.8,29.2 503.1,26.7 503.4,24.9 503.7,23.4 504.0,22.3 504.3,22.1 504.6,22.5 505.2,23.9 507.0,29.1 507.6,30.9 508.5,33.0 509.1,34.0 510.6,36.0 512.4,37.8 512.7,38.2 514.5,41.5 515.4,42.5 516.6,43.6 518.1,45.5 518.7,46.0 520.5,46.5 521.7,47.2 522.6,47.5 524.4,47.0 526.2,47.2 528.0,47.5 530.1,48.1 530.7,48.3 532.5,49.2 534.9,49.3 536.4,49.4 538.5,49.2 540.3,49.8 542.4,48.9 544.5,49.9 546.3,50.2 548.1,49.3 548.4,49.3 550.2,50.4 552.3,50.6 556.2,48.6 558.0,48.4 558.9,48.8 560.7,49.6 561.9,50.3 562.2,50.4 564.0,49.8 566.1,49.8 568.5,49.2 570.0,49.0 571.8,49.6 572.1,49.6 573.9,48.8 577.8,49.7 579.9,49.4 582.0,49.7 583.8,49.2 585.9,49.8 587.7,49.7 588.9,49.0 589.8,48.4 593.1,48.9 594.0,49.1 595.8,49.8 598.5,49.6 602.1,49.6 605.7,49.9 608.1,48.9 609.6,48.4 611.4,49.7 611.7,49.8 613.5,49.3 615.9,49.4 617.7,49.2 619.5,48.7" fill="none" stroke="#2418d0" stroke-width="2.2" stroke-linejoin="round"/>
<polyline points="413.7,50.0 416.1,49.9 417.6,49.6 419.7,50.1 423.6,49.0 425.4,51.1 425.7,51.3 427.5,50.8 429.6,49.4 431.7,50.0 434.1,50.3 437.4,51.0 440.7,49.8 441.3,49.6 443.4,49.9 445.5,49.4 447.3,49.6 450.0,49.2 451.2,49.2 451.8,49.6 453.3,50.9 454.8,50.4 457.2,50.8 458.4,51.2 458.7,51.4 459.0,51.9 459.6,53.4 459.9,54.4 460.2,55.8 460.5,57.3 460.8,59.1 461.1,61.1 461.4,63.4 461.7,66.2 462.0,69.4 462.3,73.2 462.6,78.7 463.2,91.1 463.5,97.7 463.8,103.4 464.1,108.0 464.4,112.3 464.7,116.0 465.0,118.8 465.3,120.4 465.6,121.7 465.9,122.9 466.2,123.7 466.5,124.3 466.8,124.5 467.1,124.3 467.4,123.6 467.7,122.6 468.0,121.4 468.3,120.0 468.6,118.0 468.9,115.0 469.2,111.4 469.8,103.4 470.1,99.2 470.7,89.8 471.0,85.4 471.6,76.9 471.9,73.0 472.2,69.4 472.5,66.0 472.8,62.8 473.1,59.8 473.7,54.3 474.0,51.8 474.3,50.0 474.6,49.0 474.9,48.2 475.2,47.6 475.8,47.0 476.7,46.5 477.9,46.3 480.0,46.2 483.3,46.4 485.1,46.3 488.7,47.1 490.5,47.8 492.0,48.3 496.5,49.2 498.9,49.5 499.5,49.4 499.8,49.0 500.1,48.3 500.4,47.5 500.7,46.6 501.0,45.4 501.3,44.0 501.6,42.2 501.9,39.8 502.2,37.3 502.8,32.4 503.1,30.4 503.4,29.1 503.7,28.0 504.0,27.3 504.3,27.3 504.9,28.4 505.5,29.3 506.7,31.5 507.6,33.3 508.5,34.6 510.6,37.0 512.7,40.8 514.5,43.3 515.1,43.7 516.6,44.3 518.1,45.4 518.7,45.7 520.8,47.6 522.0,48.4 522.6,48.6 524.7,47.8 526.5,46.9 528.0,48.0 528.9,48.6 530.4,49.2 532.5,49.2 534.6,49.5 537.0,49.3 539.4,49.0 540.9,48.9 542.4,48.6 544.5,48.6 546.3,48.4 548.1,49.6 548.7,49.7 550.8,49.6 552.3,49.4 554.4,49.6 556.8,49.3 558.0,49.0 558.9,49.1 560.1,49.5 562.5,49.2 564.0,49.3 566.1,48.1 568.2,49.1 570.0,49.6 573.3,49.0 576.0,48.4 578.1,49.1 579.9,50.2 581.7,49.1 582.0,49.0 583.8,50.0 585.0,49.5 585.9,49.1 587.7,49.9 588.0,49.9 589.8,49.1 592.2,49.6 594.9,49.8 595.8,49.7 597.6,48.9 598.5,49.0 599.7,49.2 601.8,48.9 603.9,49.3 606.9,49.2 608.1,49.4 609.6,49.8 611.7,48.8 617.7,49.2 619.5,48.9" fill="none" stroke="#2a98cc" stroke-width="2.2" stroke-linejoin="round"/>
<polyline points="413.7,49.7 415.5,49.2 416.1,49.3 417.6,49.9 419.7,49.7 421.5,48.9 421.8,49.0 423.6,50.6 425.7,50.1 428.1,50.9 429.6,51.4 433.5,49.7 435.6,49.9 437.4,50.6 439.2,49.2 439.5,49.0 441.3,49.8 443.4,49.8 445.2,48.9 445.5,48.9 447.6,49.6 449.4,49.9 451.2,49.4 453.3,49.7 454.8,50.4 455.4,50.3 457.5,50.4 458.4,50.7 458.7,50.8 459.0,51.2 459.6,52.4 459.9,53.2 460.2,54.3 460.5,55.5 460.8,56.9 461.1,58.4 461.4,60.2 461.7,62.3 462.0,64.7 462.3,67.6 462.6,71.7 463.2,81.1 463.5,86.1 463.8,90.4 464.1,93.8 464.4,97.1 464.7,99.8 465.0,101.9 465.3,103.2 465.6,104.2 465.9,105.0 466.2,105.7 466.5,106.2 466.8,106.4 467.1,106.2 467.4,105.7 467.7,105.0 468.3,103.1 468.6,101.6 468.9,99.4 469.2,96.7 469.8,90.5 470.1,87.3 470.7,80.1 471.0,76.6 471.6,70.2 471.9,67.2 472.2,64.4 472.5,61.8 472.8,59.4 473.1,57.2 473.7,53.0 474.0,51.2 474.3,49.8 474.6,49.0 474.9,48.5 475.2,48.0 475.8,47.6 477.0,47.0 480.0,47.0 481.2,47.0 483.6,47.3 485.4,47.4 487.2,47.3 489.9,47.8 495.0,49.2 499.2,49.4 499.5,49.4 499.8,49.1 500.1,48.6 500.7,47.3 501.0,46.4 501.3,45.3 501.6,43.9 501.9,41.9 502.8,36.0 503.1,34.3 503.4,33.1 503.7,32.1 504.0,31.4 504.3,31.3 504.6,31.7 505.5,33.2 506.7,35.7 507.6,36.7 508.8,37.6 510.6,40.4 513.0,42.7 514.5,43.9 516.6,46.6 518.7,46.7 521.7,48.1 522.6,48.3 524.4,47.6 525.0,47.9 526.5,48.8 528.3,48.6 528.6,48.7 530.4,49.9 532.5,48.6 534.3,48.8 536.4,50.2 538.2,48.9 538.5,48.9 540.3,50.0 542.4,48.9 546.3,50.1 550.2,48.7 552.3,49.1 554.1,50.0 555.3,49.8 556.2,49.5 558.3,49.8 560.4,49.5 562.5,49.5 564.9,49.1 566.1,48.8 567.9,49.7 568.8,49.6 570.0,49.5 571.8,48.3 572.1,48.3 574.2,49.5 577.8,50.5 578.1,50.4 579.9,48.6 582.0,49.5 585.3,49.8 585.9,49.8 587.7,49.0 588.3,49.2 589.8,49.7 591.9,49.2 594.0,49.3 595.8,49.1 597.6,49.6 599.7,49.2 601.8,49.6 603.6,49.4 607.5,50.4 608.1,50.2 609.6,49.4 611.7,49.0 613.8,49.2 615.6,49.1 617.4,48.4 618.0,48.7 619.5,49.4" fill="none" stroke="#30c83c" stroke-width="2.2" stroke-linejoin="round"/>
<polyline points="413.7,49.4 415.5,48.8 415.8,48.9 417.6,51.0 418.2,50.8 419.7,49.9 421.8,50.1 423.6,49.7 427.8,50.3 429.9,50.2 431.4,49.9 433.5,50.5 435.9,50.2 439.8,49.3 443.4,49.0 445.2,49.6 445.8,49.6 447.3,49.3 449.4,50.0 451.2,49.2 451.8,49.4 453.3,50.2 455.4,50.0 457.5,50.1 458.7,50.5 459.3,51.2 459.6,51.5 459.9,52.1 460.5,53.5 460.8,54.4 461.1,55.4 461.4,56.6 461.7,58.0 462.0,59.6 462.3,61.6 462.6,64.3 463.2,70.6 463.5,74.0 463.8,76.9 464.1,79.2 464.4,81.4 464.7,83.2 465.0,84.6 465.3,85.5 465.9,86.7 466.2,87.1 466.5,87.4 466.8,87.5 467.1,87.3 467.4,87.0 468.0,85.8 468.3,85.1 468.6,84.1 468.9,82.5 469.2,80.7 469.8,76.7 470.1,74.6 470.7,69.9 471.6,63.4 471.9,61.4 472.5,57.8 472.8,56.1 473.4,53.2 473.7,51.8 474.0,50.5 474.3,49.6 474.6,49.1 474.9,48.7 475.2,48.4 476.4,48.0 479.4,47.8 485.4,47.9 489.3,48.3 491.1,48.4 493.8,49.0 495.9,49.3 499.2,49.5 499.5,49.4 499.8,49.1 500.4,48.1 501.0,46.8 501.3,46.1 501.6,45.1 502.8,39.4 503.1,38.1 503.7,36.3 504.0,35.8 504.3,35.7 505.2,36.6 506.7,38.5 507.6,39.4 508.5,40.0 508.8,40.3 510.6,43.0 511.5,43.2 512.7,43.5 514.5,45.4 515.1,45.6 516.6,45.9 520.5,48.4 521.7,48.0 522.6,47.6 525.0,48.7 526.5,49.3 528.3,47.9 528.6,47.9 531.0,49.1 532.5,49.7 534.3,49.2 536.4,49.9 538.5,49.4 540.3,48.4 542.1,47.9 542.4,47.9 544.5,49.3 546.3,49.9 548.1,49.0 548.4,49.0 550.2,50.1 552.0,48.6 552.3,48.5 554.1,49.7 554.7,49.6 556.2,49.3 559.2,49.2 562.2,49.0 564.0,49.3 566.1,48.7 567.9,49.8 568.2,49.8 570.0,48.7 571.8,49.6 572.1,49.7 573.9,48.8 576.0,48.6 577.8,49.7 578.4,49.7 582.0,49.5 583.8,50.4 584.4,50.0 585.9,49.0 587.7,49.9 588.3,49.9 589.8,49.6 591.6,50.3 591.9,50.3 593.7,48.8 594.9,49.0 596.1,49.2 599.7,48.9 601.8,48.5 603.6,49.2 606.0,49.2 607.8,48.9 609.6,49.2 611.4,48.4 611.7,48.5 613.5,50.2 614.7,49.9 615.9,49.7 617.7,49.5 619.5,49.8" fill="none" stroke="#e0a848" stroke-width="2.2" stroke-linejoin="round"/>
<polyline points="413.7,48.7 415.8,49.9 417.9,50.1 419.7,50.0 421.5,50.4 423.0,49.9 425.4,48.9 425.7,48.9 427.8,49.8 429.9,50.1 431.7,50.0 433.8,49.3 435.3,48.6 435.6,48.7 437.4,50.9 438.3,50.3 439.5,49.6 441.3,49.8 443.4,49.1 445.2,49.0 446.1,49.3 447.3,49.8 449.4,50.0 451.2,49.0 453.9,49.3 454.8,49.3 455.1,49.6 458.1,49.8 458.7,49.9 459.6,50.6 460.2,51.3 460.8,52.4 461.4,53.7 461.7,54.5 462.0,55.5 462.3,56.6 462.6,58.2 463.2,62.0 463.5,64.1 463.8,65.9 464.4,68.7 464.7,69.9 465.0,70.9 465.3,71.4 465.9,72.0 466.5,72.3 466.8,72.3 467.4,72.0 468.0,71.3 468.3,70.9 468.6,70.3 468.9,69.4 469.8,66.0 470.1,64.8 471.0,60.7 471.9,56.7 472.5,54.4 473.1,52.4 474.0,50.0 474.3,49.5 474.9,49.0 475.8,48.7 477.3,48.5 479.1,48.6 481.2,48.4 483.0,48.7 485.1,48.4 487.2,48.8 490.8,48.9 493.2,49.1 495.3,49.5 499.2,49.5 499.5,49.4 499.8,49.2 501.3,46.4 501.6,45.7 502.8,41.4 503.1,40.4 503.7,39.0 504.0,38.6 504.3,38.6 505.2,39.4 506.7,41.2 507.9,41.6 508.8,41.6 510.6,42.7 512.7,45.2 514.8,46.1 516.6,47.3 518.7,47.4 520.5,48.5 522.0,48.3 523.2,48.0 525.6,47.8 526.5,47.8 528.3,48.9 528.6,49.0 530.4,48.1 532.5,48.2 536.4,49.6 539.4,49.8 542.4,49.9 544.2,49.1 546.3,49.1 548.1,50.2 548.4,50.3 550.2,49.3 552.3,49.5 554.1,48.9 555.3,49.3 556.2,49.7 558.0,48.7 558.6,48.7 560.4,49.1 564.3,49.3 566.4,49.8 570.0,49.9 573.9,49.0 576.0,49.3 579.9,48.9 581.7,50.2 582.0,50.3 583.8,48.7 584.4,48.9 585.9,49.8 589.8,48.3 591.6,50.4 591.9,50.5 593.7,49.2 595.8,48.7 597.6,50.6 597.9,50.6 599.7,49.2 601.8,49.5 603.6,50.3 604.5,49.6 605.7,48.7 607.5,48.8 609.6,49.8 611.7,49.6 613.8,48.8 615.9,48.5 617.4,48.5 619.5,49.7" fill="none" stroke="#cc30c8" stroke-width="2.2" stroke-linejoin="round"/>
<polyline points="413.7,48.7 415.8,49.2 419.7,49.3 421.5,50.0 422.4,49.8 423.6,49.5 426.0,49.6 427.8,49.3 429.6,48.9 432.0,49.6 433.5,49.8 439.2,48.7 439.5,48.7 441.3,50.3 441.6,50.2 443.4,48.9 445.8,48.9 447.3,48.6 449.4,49.6 451.5,49.5 453.3,49.1 454.8,49.4 455.1,49.6 458.7,49.8 459.6,50.3 460.2,50.8 461.1,51.9 461.7,53.1 462.0,53.9 462.3,54.7 462.6,56.0 463.2,58.8 463.5,60.3 463.8,61.6 464.4,63.6 464.7,64.5 465.0,65.1 465.6,65.8 466.2,66.2 466.8,66.3 467.4,66.1 468.3,65.3 468.6,64.8 468.9,64.2 469.8,61.6 470.4,59.7 471.6,55.7 472.2,54.0 473.1,51.8 474.0,50.0 474.3,49.6 475.2,49.1 477.0,48.7 479.4,48.8 481.5,48.7 486.0,48.8 487.5,48.9 489.6,48.8 491.7,49.1 492.9,49.4 497.1,49.2 499.2,49.5 499.8,49.4 500.1,49.6 500.7,49.1 501.0,48.6 501.3,47.9 501.6,47.1 502.8,43.0 503.1,42.2 503.7,41.2 504.0,40.9 504.3,40.9 505.2,41.4 507.9,43.9 510.6,45.9 512.7,46.7 514.5,46.3 514.8,46.5 516.6,48.6 518.4,48.0 518.7,48.0 520.5,48.9 522.3,48.8 525.0,48.4 526.5,48.1 528.3,50.0 528.6,50.2 530.4,49.2 532.5,50.1 534.3,49.1 534.9,49.2 536.4,49.8 538.2,49.2 538.8,49.2 541.2,49.8 542.4,50.0 544.2,49.0 545.4,49.2 550.5,50.0 552.3,50.0 554.4,49.1 556.2,48.8 559.8,49.8 561.3,50.0 562.2,50.0 564.0,48.7 566.1,48.3 568.5,49.2 571.8,50.1 572.1,50.1 573.9,49.0 576.0,49.3 577.8,50.0 578.1,49.9 579.9,49.0 582.0,49.9 583.8,50.3 585.9,50.1 587.7,50.4 588.3,50.2 589.8,49.3 591.6,48.7 591.9,48.7 593.7,50.3 594.6,50.2 595.8,49.9 597.6,50.2 599.4,49.7 601.8,48.8 603.9,49.2 606.0,49.2 607.8,49.1 609.9,49.6 611.7,49.6 614.4,48.8 615.9,48.4 617.4,48.1 618.0,48.4 619.5,49.4" fill="none" stroke="#d42828" stroke-width="2.2" stroke-linejoin="round"/>
<line x1="51.2" y1="490.5" x2="260.9" y2="490.5" stroke="#000" stroke-width="1.1"/>
<polyline points="51.2,489.6 65.2,489.6 79.2,489.6 93.2,489.5 96.7,489.4 99.2,489.0 99.9,488.6 100.6,488.0 100.9,487.5 101.3,486.9 102.0,485.1 102.3,484.1 102.7,482.9 103.0,481.5 103.4,479.8 103.7,477.8 104.1,475.0 104.8,468.8 105.1,465.4 105.5,461.6 105.8,456.8 106.2,451.3 106.5,446.1 106.9,441.2 107.2,436.8 107.6,432.6 107.9,428.7 108.3,425.1 108.6,422.2 109.0,419.7 109.3,417.5 109.7,415.5 110.4,411.9 111.1,408.7 111.8,405.9 112.5,403.5 114.2,398.3 114.9,396.0 116.0,392.3 116.7,390.1 117.7,387.1 118.8,384.6 119.8,382.5 120.9,380.7 122.3,378.9 123.7,377.3 125.4,375.9 127.5,374.6 130.0,373.5 137.0,371.1 138.4,370.3 139.4,369.3 140.1,368.4 140.8,367.0 141.5,365.4 141.9,364.4 142.6,362.1 144.3,355.6 146.4,347.9 147.1,345.7 148.2,343.0 149.2,340.7 150.3,338.7 151.3,337.2 152.7,335.5 154.5,333.9 156.9,332.2 159.4,331.0 161.5,330.3 165.7,329.4 168.8,329.1 182.8,328.9 196.8,328.8 210.8,328.8 224.8,328.8 238.8,328.9 252.8,328.9 260.9,329.0" fill="none" stroke="#151515" stroke-width="1.6" stroke-linejoin="round" stroke-dasharray="1.35,1.15"/>
<polyline points="51.2,489.6 65.2,489.6 79.2,489.6 93.2,489.5 96.7,489.4 99.2,489.0 99.9,488.6 100.6,488.0 100.9,487.5 101.3,486.9 102.0,485.1 102.3,484.1 102.7,482.9 103.0,481.5 103.4,479.8 103.7,477.8 104.1,475.0 104.8,468.8 105.1,465.4 105.5,461.6 105.8,456.8 106.2,451.3 106.5,446.1 106.9,441.2 107.2,436.8 107.6,432.6 107.9,428.7 108.3,425.1 108.6,422.2 109.0,419.7 109.3,417.5 109.7,415.5 110.4,411.9 111.1,408.7 111.8,405.9 112.5,403.5 114.2,398.3 114.9,396.0 116.0,392.3 116.7,390.1 117.7,387.1 118.8,384.6 119.8,382.5 120.9,380.7 122.3,378.9 123.7,377.3 125.4,375.9 127.5,374.6 130.0,373.5 137.0,371.1 138.4,370.3 139.4,369.3 140.1,368.4 140.8,367.0 141.5,365.4 141.9,364.4 142.6,362.1 144.3,355.6 146.4,347.9 147.1,345.7 148.2,343.0 149.2,340.7 150.3,338.7 151.3,337.2 152.7,335.5 154.5,333.9 156.9,332.2 159.4,331.0 161.5,330.3 165.7,329.4 168.8,329.1 182.8,328.9 196.8,328.8 210.8,328.8 224.8,328.8 238.8,328.9 252.8,328.9 260.9,329.0" fill="none" stroke="#3a9ad8" stroke-width="1.6" stroke-linejoin="round" stroke-dasharray="1.35,1.15"/>
<polyline points="51.2,489.6 65.2,489.6 79.2,489.6 93.2,489.5 96.7,489.4 99.2,489.0 99.9,488.7 100.6,488.1 100.9,487.7 101.3,487.1 102.0,485.5 102.3,484.6 102.7,483.5 103.0,482.2 103.4,480.6 103.7,478.8 104.1,476.3 104.8,470.5 105.1,467.5 105.5,464.0 105.8,459.6 106.2,454.5 106.5,449.8 106.9,445.3 107.2,441.3 107.6,437.4 107.9,433.8 108.3,430.6 108.6,428.0 109.0,425.7 109.3,423.6 109.7,421.8 110.4,418.5 111.1,415.6 111.8,413.0 112.5,410.8 114.2,406.1 114.9,404.0 116.0,400.6 116.7,398.5 117.7,395.8 118.8,393.5 120.2,391.1 121.2,389.5 123.0,387.5 124.7,386.0 126.8,384.6 129.3,383.5 136.6,381.0 138.0,380.2 139.1,379.3 139.8,378.4 140.1,377.9 140.5,377.2 141.2,375.4 141.5,374.4 141.9,373.3 142.2,372.0 142.9,369.0 144.3,362.6 146.4,353.5 147.1,350.8 147.8,348.6 148.9,345.7 149.9,343.2 150.6,341.8 151.7,340.1 153.1,338.2 154.5,336.7 156.6,334.9 159.0,333.3 161.1,332.4 165.3,331.3 168.1,330.9 182.1,330.6 191.9,330.5 205.9,329.9 219.9,329.3 233.9,328.7 247.9,328.2 260.9,327.8" fill="none" stroke="#30c430" stroke-width="1.6" stroke-linejoin="round" stroke-dasharray="1.35,1.15"/>
<polyline points="51.2,489.6 65.2,489.6 79.2,489.6 93.2,489.5 96.7,489.4 99.2,489.0 99.9,488.7 100.6,488.1 100.9,487.7 101.3,487.1 102.0,485.4 102.3,484.5 102.7,483.3 103.0,482.0 103.4,480.4 103.7,478.5 104.1,476.0 104.8,470.1 105.1,467.0 105.5,463.4 105.8,458.9 106.2,453.8 106.5,449.0 106.9,444.4 107.2,440.2 107.6,436.3 107.9,432.6 108.3,429.3 108.6,426.6 109.0,424.3 109.3,422.2 109.7,420.3 110.4,416.9 111.1,414.0 111.8,411.4 112.5,409.1 114.2,404.3 114.9,402.1 116.0,398.6 116.7,396.5 117.7,393.8 118.8,391.4 120.2,388.9 121.2,387.3 122.6,385.7 124.4,384.0 126.5,382.6 128.6,381.5 137.0,378.6 138.4,377.8 139.4,376.8 140.1,375.9 140.8,374.5 141.5,372.7 141.9,371.7 142.2,370.6 142.9,367.9 144.3,362.2 146.4,354.1 147.1,351.7 148.2,348.8 149.2,346.3 150.3,344.2 151.3,342.6 152.7,340.8 154.1,339.4 155.9,338.0 158.3,336.5 160.4,335.5 164.6,334.4 167.8,334.0 181.8,333.7 195.8,333.6 209.8,333.6 223.8,333.6 237.8,333.7 251.8,333.7 260.9,333.8" fill="none" stroke="#d8a858" stroke-width="1.6" stroke-linejoin="round" stroke-dasharray="1.35,1.15"/>
<polyline points="51.2,489.6 65.2,489.6 79.2,489.6 93.2,489.5 96.7,489.4 99.2,489.0 99.9,488.6 100.6,488.0 100.9,487.6 101.3,487.0 102.0,485.3 102.3,484.3 102.7,483.1 103.0,481.8 103.4,480.2 103.7,478.2 104.1,475.5 104.8,469.5 105.1,466.3 105.5,462.6 105.8,458.0 106.2,452.7 106.5,447.7 106.9,443.0 107.2,438.7 107.6,434.7 107.9,430.9 108.3,427.5 108.6,424.7 109.0,422.3 109.3,420.2 109.7,418.2 110.4,414.7 111.1,411.7 111.8,409.0 112.5,406.7 114.2,401.7 114.9,399.5 116.0,395.9 116.7,393.7 117.7,390.9 118.8,388.5 119.8,386.5 120.9,384.8 122.3,383.0 124.0,381.2 126.1,379.6 128.2,378.5 132.4,377.0 137.0,375.4 138.4,374.7 139.4,373.7 140.1,372.7 140.8,371.4 141.5,369.8 141.9,368.8 142.6,366.5 144.3,360.0 146.4,352.3 147.1,350.1 148.2,347.4 149.2,345.1 150.3,343.1 151.3,341.6 152.7,339.9 154.5,338.3 156.9,336.6 159.4,335.4 161.5,334.7 165.7,333.8 168.8,333.5 182.8,333.3 196.8,333.2 210.8,333.2 224.8,333.2 238.8,333.3 252.8,333.3 260.9,333.4" fill="none" stroke="#e030b8" stroke-width="1.6" stroke-linejoin="round" stroke-dasharray="1.35,1.15"/>
<polyline points="51.2,490.0 65.2,490.1 79.2,490.1 88.0,489.9 91.5,489.6 94.3,488.9 95.7,488.3 96.7,487.6 97.4,486.8 97.8,486.2 98.1,485.4 98.5,484.5 98.8,483.3 99.2,481.6 99.5,479.3 99.9,475.3 100.2,469.5 100.6,462.9 100.9,456.6 101.3,449.9 101.6,442.8 102.0,435.3 102.3,426.7 102.7,418.0 103.0,410.7 103.4,404.5 103.7,398.8 104.1,393.7 104.4,389.1 104.8,384.6 105.1,380.8 105.5,377.7 105.8,375.3 106.2,374.7 106.5,375.9 106.9,378.0 107.2,381.5 107.6,386.5 107.9,394.2 108.3,406.5 108.6,415.8 109.0,423.2 109.3,428.1 109.7,431.3 110.0,433.8 110.4,435.8 110.7,437.5 111.1,438.9 113.5,448.0 114.2,450.8 115.6,457.0 116.0,458.4 117.0,462.0 118.1,465.2 119.1,468.1 122.6,476.2 124.0,478.9 125.1,480.7 126.1,482.0 127.9,483.6 130.0,485.0 132.1,486.0 134.5,486.8 135.6,486.7 136.6,486.2 137.0,485.9 137.3,485.4 137.7,484.7 138.0,483.7 138.4,482.2 138.7,480.5 139.1,478.6 139.4,476.3 139.8,473.4 140.5,467.4 141.2,462.0 141.5,459.5 141.9,457.3 142.2,455.7 142.6,454.3 142.9,453.1 143.3,452.2 143.6,451.9 144.0,452.0 144.3,452.4 144.7,453.0 145.4,454.5 145.7,455.4 146.1,456.8 146.8,460.5 147.1,462.1 148.2,466.1 148.9,468.3 149.2,469.2 149.9,470.7 151.3,473.2 152.4,475.0 154.5,479.0 155.5,480.8 157.3,483.3 158.3,484.5 159.4,485.4 161.8,487.0 163.9,487.9 166.0,488.4 171.6,489.1 180.0,489.4 194.0,489.7 208.0,489.7 222.0,489.8 236.0,489.8 250.0,489.8 260.5,490.0 260.9,490.0" fill="none" stroke="#151515" stroke-width="1.9" stroke-linejoin="round"/>
<polyline points="51.2,490.0 65.2,490.1 79.2,490.1 88.0,489.9 91.5,489.6 94.3,488.9 95.7,488.3 96.7,487.6 97.4,486.8 97.8,486.2 98.1,485.4 98.5,484.5 98.8,483.3 99.2,481.6 99.5,479.3 99.9,475.3 100.2,469.5 100.6,462.9 100.9,456.6 101.3,449.9 101.6,442.8 102.0,435.3 102.3,426.7 102.7,418.0 103.0,410.7 103.4,404.5 103.7,398.8 104.1,393.8 104.4,389.3 104.8,385.1 105.1,381.7 105.5,379.3 105.8,377.4 106.2,377.1 106.5,378.1 106.9,379.8 107.2,382.6 107.6,387.1 107.9,394.5 108.3,406.6 108.6,415.8 109.0,423.2 109.3,428.1 109.7,431.3 110.0,433.7 110.4,435.7 110.7,437.4 111.1,438.9 113.5,448.0 114.2,450.7 115.6,456.9 116.0,458.3 117.0,461.9 118.1,465.0 119.1,467.8 122.6,475.8 124.0,478.5 125.1,480.3 126.1,481.6 127.9,483.2 130.0,484.7 132.1,485.8 134.5,486.6 135.6,486.6 136.6,486.1 137.0,485.8 137.3,485.3 137.7,484.6 138.0,483.6 138.4,482.2 138.7,480.5 139.1,478.6 139.4,476.3 139.8,473.4 140.5,467.3 141.2,462.0 141.5,459.4 141.9,457.3 142.2,455.7 142.6,454.3 142.9,453.1 143.3,452.2 143.6,451.9 144.0,452.0 144.3,452.4 144.7,453.0 145.4,454.5 145.7,455.4 146.1,456.8 146.8,460.5 147.1,462.1 148.2,466.1 148.9,468.3 149.2,469.2 149.9,470.7 151.3,473.2 152.4,475.0 154.5,479.0 155.5,480.8 157.3,483.3 158.3,484.5 159.4,485.4 161.8,487.0 163.9,487.9 166.0,488.4 171.6,489.1 180.0,489.4 194.0,489.7 208.0,489.7 222.0,489.8 236.0,489.8 250.0,489.8 260.5,490.0 260.9,490.0" fill="none" stroke="#3a9ad8" stroke-width="1.9" stroke-linejoin="round"/>
<polyline points="51.2,490.0 65.2,490.1 79.2,490.1 88.0,489.9 91.5,489.6 94.3,488.9 95.7,488.3 96.7,487.6 97.4,486.8 97.8,486.2 98.1,485.4 98.5,484.5 98.8,483.3 99.2,481.6 99.5,479.3 99.9,475.3 100.2,469.5 100.6,462.9 100.9,456.6 101.3,449.9 101.6,442.8 102.0,435.3 102.3,426.7 102.7,418.0 103.0,410.7 103.4,404.5 103.7,398.8 104.1,393.8 104.4,389.3 104.8,385.1 105.1,381.7 105.5,379.3 105.8,377.4 106.2,377.1 106.5,378.1 106.9,379.8 107.2,382.6 107.6,387.1 107.9,394.5 108.3,406.6 108.6,415.8 109.0,423.2 109.3,428.1 109.7,431.3 110.0,433.7 110.4,435.7 110.7,437.4 111.1,438.8 113.5,447.9 114.2,450.7 115.6,456.8 116.0,458.2 117.0,461.7 118.1,464.8 119.1,467.6 122.6,475.4 124.0,478.1 125.1,479.9 126.1,481.2 127.9,482.9 130.3,484.7 132.1,485.6 134.5,486.5 135.6,486.6 136.6,486.1 137.0,485.8 137.3,485.3 137.7,484.6 138.0,483.6 138.4,482.2 138.7,480.4 139.1,478.5 139.4,476.3 139.8,473.4 140.5,467.3 141.2,462.0 141.5,459.4 141.9,457.3 142.2,455.7 142.6,454.3 142.9,453.1 143.3,452.2 143.6,451.9 144.0,452.0 144.3,452.4 144.7,453.0 145.4,454.5 145.7,455.4 146.1,456.8 146.8,460.5 147.1,462.1 148.2,466.1 148.9,468.3 149.2,469.2 149.9,470.7 151.3,473.2 152.4,475.0 154.5,479.0 155.5,480.8 157.3,483.3 158.3,484.5 159.4,485.4 161.8,487.0 163.9,487.9 165.7,488.3 171.3,488.9 178.6,489.1 192.6,488.9 206.6,488.7 220.6,488.4 230.4,488.3 244.4,488.3 258.4,488.4 260.9,488.5" fill="none" stroke="#30c430" stroke-width="1.9" stroke-linejoin="round"/>
<polyline points="51.2,490.0 65.2,490.1 79.2,490.1 88.0,489.9 91.5,489.6 94.3,488.9 95.7,488.3 96.7,487.6 97.4,486.8 97.8,486.2 98.1,485.4 98.5,484.5 98.8,483.3 99.2,481.6 99.5,479.3 99.9,475.3 100.2,469.5 100.6,462.9 100.9,456.6 101.3,449.9 101.6,442.8 102.0,435.3 102.3,426.7 102.7,418.0 103.0,410.7 103.4,404.5 103.7,398.8 104.1,393.8 104.4,389.3 104.8,385.1 105.1,381.7 105.5,379.3 105.8,377.4 106.2,377.1 106.5,378.1 106.9,379.8 107.2,382.6 107.6,387.1 107.9,394.5 108.3,406.6 108.6,415.8 109.0,423.2 109.3,428.1 109.7,431.3 110.0,433.7 110.4,435.7 110.7,437.4 111.1,438.8 113.9,449.2 114.6,452.1 115.6,456.7 116.0,458.1 117.0,461.6 118.1,464.7 119.1,467.4 122.6,475.2 124.0,477.9 125.1,479.7 126.1,481.0 127.9,482.7 130.3,484.5 132.1,485.5 134.5,486.5 135.6,486.5 136.6,486.0 137.0,485.7 137.3,485.2 137.7,484.6 138.0,483.6 138.4,482.1 138.7,480.4 139.1,478.5 139.4,476.3 139.8,473.4 140.5,467.3 141.2,462.0 141.5,459.4 141.9,457.3 142.2,455.7 142.6,454.3 142.9,453.1 143.3,452.2 143.6,451.9 144.0,452.0 144.3,452.4 144.7,453.0 145.4,454.5 145.7,455.4 146.1,456.8 146.8,460.5 147.1,462.1 148.2,466.1 148.9,468.3 149.2,469.2 149.9,470.7 151.3,473.2 152.4,475.0 154.5,479.0 155.5,480.8 157.3,483.3 158.3,484.5 159.4,485.4 161.8,487.0 163.9,487.9 166.0,488.4 171.6,489.1 180.0,489.4 194.0,489.7 208.0,489.7 222.0,489.8 236.0,489.8 250.0,489.8 260.5,490.0 260.9,490.0" fill="none" stroke="#d8a858" stroke-width="1.9" stroke-linejoin="round"/>
<polyline points="51.2,490.0 65.2,490.1 79.2,490.1 88.0,489.9 91.5,489.6 94.3,488.9 95.7,488.3 96.7,487.6 97.4,486.8 97.8,486.2 98.1,485.4 98.5,484.5 98.8,483.3 99.2,481.6 99.5,479.3 99.9,475.3 100.2,469.5 100.6,462.9 100.9,456.6 101.3,449.9 101.6,442.8 102.0,435.3 102.3,426.7 102.7,418.0 103.0,410.7 103.4,404.5 103.7,398.8 104.1,393.8 104.4,389.3 104.8,385.1 105.1,381.7 105.5,379.3 105.8,377.4 106.2,377.1 106.5,378.1 106.9,379.8 107.2,382.6 107.6,387.1 107.9,394.5 108.3,406.6 108.6,415.8 109.0,423.2 109.3,428.1 109.7,431.3 110.0,433.8 110.4,435.8 110.7,437.5 111.1,438.9 113.5,448.0 114.2,450.8 115.6,457.0 116.0,458.4 117.0,462.0 118.1,465.2 119.1,468.1 122.6,476.2 124.0,478.9 125.1,480.7 126.1,482.0 127.9,483.6 130.0,485.0 132.1,486.0 134.5,486.8 135.6,486.7 136.6,486.2 137.0,485.9 137.3,485.4 137.7,484.7 138.0,483.7 138.4,482.2 138.7,480.5 139.1,478.6 139.4,476.3 139.8,473.4 140.5,467.4 141.2,462.0 141.5,459.5 141.9,457.3 142.2,455.7 142.6,454.3 142.9,453.1 143.3,452.2 143.6,451.9 144.0,452.0 144.3,452.4 144.7,453.0 145.4,454.5 145.7,455.4 146.1,456.8 146.8,460.5 147.1,462.1 148.2,466.1 148.9,468.3 149.2,469.2 149.9,470.7 151.3,473.2 152.4,475.0 154.5,479.0 155.5,480.8 157.3,483.3 158.3,484.5 159.4,485.4 161.8,487.0 163.9,487.9 166.0,488.4 171.6,489.1 180.0,489.4 194.0,489.7 208.0,489.7 222.0,489.8 236.0,489.8 250.0,489.8 260.5,490.0 260.9,490.0" fill="none" stroke="#e030b8" stroke-width="1.9" stroke-linejoin="round"/>
<line x1="411.9" y1="334.5" x2="618.8" y2="334.5" stroke="#000" stroke-width="1.1"/>
<polyline points="411.9,334.4 416.1,334.2 419.7,334.5 423.6,333.9 427.5,334.8 431.7,334.3 438.3,334.6 446.7,334.6 451.2,334.2 456.9,334.9 458.7,335.4 459.3,335.8 459.9,336.6 460.5,337.7 461.1,339.1 461.4,340.1 461.7,341.3 462.0,342.7 462.3,344.4 462.6,346.3 462.9,348.8 463.2,351.9 463.5,355.5 463.8,359.5 464.1,364.4 464.7,375.1 465.0,380.5 465.6,391.8 466.2,402.5 466.5,407.6 466.8,412.4 467.1,416.7 467.4,420.8 467.7,424.4 468.0,427.4 468.3,429.8 468.6,431.9 468.9,433.8 469.2,435.3 469.8,437.7 470.4,439.7 470.7,440.5 471.0,441.1 471.3,441.5 472.8,442.1 474.0,442.3 474.9,442.0 476.4,440.9 478.2,439.5 479.1,439.0 483.3,438.0 486.3,437.6 494.1,437.1 496.5,436.6 497.7,435.7 498.3,435.1 498.9,434.1 499.2,433.5 499.5,432.7 499.8,431.7 500.4,429.3 500.7,428.1 501.0,426.6 502.5,418.5 503.1,415.4 503.4,414.0 503.7,412.7 504.6,409.4 505.5,406.6 506.4,404.3 507.3,402.5 509.1,399.1 511.2,394.7 512.1,393.2 514.2,390.4 516.0,388.5 517.2,387.5 519.0,387.0 524.4,386.1 533.1,385.6 540.6,385.9 544.8,385.1 548.7,384.9 553.8,385.4 556.2,385.7 560.4,385.0 572.4,384.6 575.7,384.5 579.6,385.7 583.5,384.6 588.0,384.4 595.2,384.9 599.4,384.3 608.1,384.5 610.8,384.7 614.7,384.0 618.6,384.4" fill="none" stroke="#151515" stroke-width="1.6" stroke-linejoin="round" stroke-dasharray="1.35,1.15"/>
<polyline points="411.9,334.1 417.0,334.2 423.9,334.7 428.7,334.2 432.3,334.0 435.6,334.4 439.2,335.5 443.4,335.4 447.3,335.8 456.3,338.0 459.3,338.5 460.2,339.2 461.1,340.3 461.4,340.9 461.7,341.7 462.0,342.7 462.3,343.9 462.6,345.4 462.9,347.4 463.2,349.9 463.5,352.8 463.8,356.1 464.1,360.1 464.7,369.0 465.0,373.5 465.6,383.0 466.2,391.9 466.5,396.1 466.8,400.1 467.1,403.6 467.4,406.9 467.7,409.9 468.0,412.3 468.3,414.3 468.6,416.1 468.9,417.6 469.2,418.8 470.1,421.5 470.7,422.9 471.0,423.5 471.3,423.9 472.8,424.6 474.0,425.0 474.3,425.0 475.5,424.3 478.2,422.2 479.4,421.7 486.9,420.5 489.9,420.2 493.8,420.8 496.5,420.1 498.0,419.1 498.6,418.4 499.2,417.5 499.5,416.8 500.1,415.1 500.7,413.1 501.3,410.7 502.5,405.6 503.1,403.1 503.7,400.9 504.6,398.3 505.5,396.1 506.4,394.5 507.6,392.8 509.4,390.5 511.5,386.8 512.7,385.2 514.2,383.6 516.3,381.9 517.2,381.4 519.6,380.9 522.6,380.7 525.0,380.7 528.9,379.6 533.4,379.4 537.3,379.5 541.2,379.1 544.8,378.6 555.3,378.6 556.5,378.6 560.1,377.7 564.3,378.2 568.2,378.0 571.8,378.3 575.7,376.8 579.9,377.2 583.8,377.0 587.4,377.4 591.3,376.4 601.8,376.4 607.2,376.0 610.8,375.4 614.7,376.2 618.6,375.1" fill="none" stroke="#3a9ad8" stroke-width="1.6" stroke-linejoin="round" stroke-dasharray="1.35,1.15"/>
<polyline points="411.9,334.1 416.4,334.4 424.5,334.3 432.3,334.5 438.6,334.4 443.1,334.1 447.3,334.6 451.2,334.4 457.2,335.2 459.3,335.7 459.9,336.0 460.8,337.0 461.1,337.4 461.4,337.9 461.7,338.7 462.0,339.5 462.3,340.6 462.6,341.8 462.9,343.5 463.2,345.7 463.5,348.2 463.8,351.0 464.1,354.3 465.0,365.3 465.6,373.1 466.2,380.3 466.5,383.8 466.8,387.0 467.1,389.7 467.4,392.4 467.7,394.7 468.0,396.6 468.3,398.2 468.6,399.5 468.9,400.7 469.2,401.6 470.1,403.7 470.7,404.8 471.0,405.2 471.3,405.4 473.1,405.7 474.3,405.6 475.5,405.3 478.5,403.8 480.0,403.5 484.8,403.3 487.5,403.4 489.9,403.6 493.8,402.2 496.5,402.3 497.7,401.9 498.3,401.4 498.9,400.6 499.2,400.1 499.5,399.3 500.1,397.5 500.7,395.5 501.3,392.9 502.5,387.6 503.1,385.0 503.4,383.8 504.0,381.8 504.9,379.2 505.8,377.0 506.7,375.2 510.3,369.3 511.5,367.3 512.7,365.9 514.5,364.2 516.6,362.8 518.1,362.2 520.8,361.5 525.0,360.8 529.2,361.1 533.1,360.6 537.0,360.6 544.5,359.5 548.4,360.4 553.5,360.2 557.4,360.2 565.5,359.8 568.5,359.9 571.8,360.1 576.0,359.5 587.7,359.7 591.3,360.2 595.2,359.3 599.1,360.1 603.3,359.3 611.1,359.1 616.5,359.4 618.6,359.5" fill="none" stroke="#30c430" stroke-width="1.6" stroke-linejoin="round" stroke-dasharray="1.35,1.15"/>
<polyline points="411.9,334.3 416.1,334.1 419.7,334.6 423.9,334.0 427.8,334.0 432.6,334.6 436.5,334.7 444.0,334.7 451.2,334.4 457.5,334.9 459.3,335.3 460.2,335.9 461.1,336.9 461.4,337.3 461.7,337.9 462.3,339.5 462.6,340.5 462.9,341.7 463.2,343.4 463.5,345.2 463.8,347.3 464.1,349.7 465.0,358.0 465.6,363.8 466.2,369.3 466.5,371.9 466.8,374.4 467.4,378.7 467.7,380.5 468.0,382.0 468.3,383.3 468.6,384.4 468.9,385.3 469.2,386.1 470.1,387.8 470.7,388.7 471.3,389.2 473.4,389.6 474.3,389.6 475.8,388.9 478.2,387.6 479.7,387.4 482.7,387.2 486.0,386.8 489.9,387.6 495.9,387.0 497.1,386.7 498.0,386.3 498.9,385.5 499.2,385.2 499.8,384.1 500.7,382.0 501.6,379.2 503.1,374.5 503.7,372.9 504.6,370.9 505.5,369.2 506.4,367.9 508.2,365.7 511.5,361.8 513.0,360.5 514.8,359.3 517.2,358.1 520.2,358.3 521.1,358.5 525.0,356.8 528.9,356.1 532.8,357.0 537.0,356.3 540.6,356.2 544.5,357.0 548.7,356.2 552.6,356.1 556.5,356.4 560.1,356.0 564.0,356.5 568.2,356.0 574.2,356.5 577.5,356.7 579.6,356.7 583.5,355.4 587.7,355.9 591.9,355.9 595.5,356.2 600.3,355.7 603.0,355.5 607.2,356.2 611.7,356.0 615.6,355.5 618.6,355.0" fill="none" stroke="#d8a858" stroke-width="1.6" stroke-linejoin="round" stroke-dasharray="1.35,1.15"/>
<polyline points="411.9,334.0 417.3,334.4 420.9,334.7 423.9,334.8 427.5,334.2 431.4,334.7 435.6,334.2 443.4,334.7 447.0,334.3 450.9,335.1 454.8,333.7 458.1,334.5 459.9,335.0 461.1,335.7 461.7,336.4 462.3,337.4 462.6,338.1 462.9,338.9 463.2,340.0 463.5,341.2 463.8,342.6 464.1,344.2 465.0,349.7 465.6,353.6 466.5,358.9 466.8,360.5 467.4,363.3 467.7,364.5 468.0,365.5 468.6,367.0 469.2,368.1 470.4,369.6 471.0,370.0 472.2,370.0 474.6,369.8 478.2,369.6 480.6,368.9 482.1,368.6 486.6,369.0 490.2,368.9 493.8,368.3 496.8,368.7 497.7,368.7 498.6,368.1 499.2,367.6 499.8,366.7 500.7,365.1 503.1,359.8 504.0,358.2 505.2,356.4 506.1,355.5 507.9,354.2 509.7,352.9 511.8,351.2 514.5,349.8 517.5,348.8 521.4,347.9 526.8,347.5 529.5,347.4 533.1,347.7 542.1,347.1 550.5,347.0 553.8,347.1 556.5,347.2 561.0,346.8 565.8,346.8 570.0,346.8 576.0,346.7 580.5,347.3 583.8,347.4 587.7,346.9 592.2,346.9 595.8,346.7 599.4,346.8 603.0,346.3 610.8,347.0 614.7,346.2 618.6,346.4" fill="none" stroke="#e030b8" stroke-width="1.6" stroke-linejoin="round" stroke-dasharray="1.35,1.15"/>
<polyline points="411.9,334.5 414.3,334.2 416.7,334.8 419.4,334.4 421.8,335.0 424.2,334.0 426.6,334.6 429.3,334.5 431.7,334.7 434.1,334.2 438.9,335.0 441.3,334.2 444.3,334.4 446.4,334.9 448.8,334.3 451.2,335.0 453.9,334.3 454.8,334.3 455.4,334.5 456.6,334.8 457.8,335.5 458.1,335.7 458.4,336.2 458.7,336.9 459.0,337.8 459.3,339.3 459.6,341.5 459.9,344.3 460.2,348.1 460.5,353.4 460.8,359.5 461.1,365.9 461.4,373.2 461.7,381.6 462.0,391.2 462.3,400.2 462.6,408.8 462.9,416.8 463.2,424.1 463.5,431.1 463.8,436.5 464.1,439.7 464.4,442.2 464.7,443.2 465.0,442.1 465.3,439.7 465.6,436.6 465.9,431.9 466.2,425.7 466.5,419.2 466.8,412.3 467.1,404.7 467.7,388.9 468.0,380.9 468.3,373.2 468.6,365.9 468.9,359.4 469.2,353.8 469.5,348.6 469.8,344.4 470.1,341.1 470.4,338.1 470.7,335.8 471.0,334.6 471.3,334.1 471.9,333.6 473.4,332.7 475.5,332.0 477.3,331.7 478.2,331.8 479.7,332.6 481.2,333.4 483.9,334.4 485.7,334.6 490.8,334.4 496.2,334.5 496.8,334.1 497.4,333.3 497.7,332.5 498.0,331.0 498.3,328.8 498.6,326.5 498.9,323.2 499.2,319.6 499.5,316.6 499.8,314.4 500.4,310.9 500.7,309.4 501.0,308.3 501.3,307.3 501.6,306.5 501.9,306.1 502.2,305.7 502.5,305.6 502.8,305.7 503.4,306.3 503.7,306.7 504.3,308.0 505.8,311.9 508.2,317.4 509.1,319.2 511.8,323.7 513.0,326.0 514.2,327.9 514.8,328.6 516.9,330.5 517.8,331.1 520.2,331.3 522.9,332.1 527.7,333.0 532.8,333.0 535.2,333.2 537.3,333.0 539.7,334.1 540.3,334.1 542.4,333.6 545.7,334.4 547.2,334.6 549.6,334.0 553.8,334.5 556.2,335.0 557.1,335.3 559.5,334.2 561.9,334.8 564.3,334.2 564.9,334.3 567.0,334.9 571.8,334.1 576.9,334.4 581.4,334.1 581.7,334.1 584.1,334.9 589.2,334.0 592.2,334.3 594.0,334.7 596.4,334.2 599.1,334.8 602.1,334.5 604.5,334.3 609.0,334.1 613.8,334.6 616.2,334.1 618.6,335.1" fill="none" stroke="#151515" stroke-width="2.2" stroke-linejoin="round"/>
<polyline points="411.9,334.5 414.6,334.7 417.6,334.5 420.6,334.6 423.6,334.7 426.9,334.6 429.3,334.0 432.6,334.3 434.7,334.5 436.5,334.8 441.6,334.4 444.6,334.6 446.7,334.5 448.8,334.1 451.2,334.7 453.9,334.4 456.3,334.7 457.8,335.3 458.1,335.5 458.4,335.8 458.7,336.4 459.0,337.1 459.3,338.3 459.6,340.1 459.9,342.3 460.2,345.3 460.5,349.6 460.8,354.5 461.1,359.6 461.4,365.4 461.7,372.2 462.0,379.9 462.3,387.1 462.6,394.0 462.9,400.5 463.2,406.3 463.5,411.9 463.8,416.3 464.1,418.8 464.4,420.7 464.7,421.5 465.0,420.7 465.3,418.7 465.6,416.2 465.9,412.4 466.2,407.5 466.5,402.3 466.8,396.8 467.1,390.7 467.7,378.1 468.0,371.7 468.3,365.6 468.6,359.8 468.9,354.6 469.2,350.0 469.5,345.9 469.8,342.4 470.1,339.8 470.4,337.4 470.7,335.5 471.0,334.5 471.3,334.2 472.2,333.5 473.7,332.9 477.3,332.3 478.2,332.3 481.2,333.6 483.6,334.3 485.4,334.4 494.1,334.6 496.2,334.5 496.8,334.1 497.4,333.4 497.7,332.8 498.0,331.5 498.3,329.7 498.6,327.8 498.9,325.0 499.2,322.0 499.5,319.5 499.8,317.7 500.4,314.8 500.7,313.6 501.0,312.7 501.3,311.9 501.6,311.3 502.2,310.7 502.5,310.6 503.1,310.9 503.7,311.4 504.3,312.3 505.5,314.8 507.0,318.0 507.9,319.9 509.1,321.7 510.6,323.4 512.4,325.9 513.9,328.2 514.8,329.3 516.6,330.8 518.4,331.7 520.2,332.4 522.9,332.7 525.0,333.2 527.7,332.6 531.3,333.3 532.5,333.5 535.5,333.3 537.6,333.4 539.7,333.2 540.3,333.3 542.4,334.3 544.8,333.9 547.2,334.5 549.9,334.1 552.3,334.3 554.7,335.0 557.1,334.1 560.4,334.3 562.2,334.4 564.6,333.9 567.0,334.5 571.5,334.4 574.5,334.2 576.9,334.5 579.9,334.3 582.3,334.3 584.4,334.3 586.8,334.7 589.2,334.4 591.6,334.8 594.0,334.2 596.7,334.4 599.1,334.3 603.0,334.8 604.5,334.8 606.6,334.8 609.0,335.0 611.7,334.5 613.8,334.0 616.5,334.6 618.6,334.9" fill="none" stroke="#3a9ad8" stroke-width="2.2" stroke-linejoin="round"/>
<polyline points="411.9,334.1 416.4,334.7 417.0,334.6 419.4,333.9 424.2,334.2 426.9,334.9 429.6,334.8 432.0,334.6 434.4,334.6 437.7,334.2 439.2,334.1 441.6,334.7 444.3,334.7 446.7,334.4 448.8,333.8 451.2,334.6 454.2,334.5 454.8,334.4 456.6,334.7 458.1,335.3 458.4,335.6 458.7,336.0 459.0,336.6 459.3,337.6 459.6,339.0 459.9,340.8 460.2,343.2 460.5,346.6 460.8,350.5 461.1,354.6 461.4,359.2 461.7,364.5 462.0,370.6 462.3,376.3 462.6,381.8 462.9,386.8 463.2,391.5 463.5,395.9 463.8,399.3 464.1,401.4 464.4,402.9 464.7,403.5 465.0,402.9 465.3,401.3 465.6,399.4 465.9,396.3 466.2,392.5 466.5,388.3 466.8,383.9 467.1,379.1 467.7,369.1 468.0,364.0 468.3,359.1 468.6,354.5 468.9,350.3 469.2,346.7 469.5,343.5 469.8,340.7 470.1,338.7 470.4,336.8 470.7,335.3 471.0,334.5 471.6,334.0 473.4,333.2 477.3,332.8 478.5,332.9 481.2,333.9 483.6,334.4 490.8,334.5 496.2,334.5 496.8,334.2 497.4,333.6 497.7,333.0 498.0,331.8 498.3,330.3 498.6,328.6 498.9,326.2 499.2,323.6 499.5,321.4 500.1,318.3 500.4,317.1 500.7,316.0 501.0,315.1 501.3,314.4 501.6,313.8 502.2,313.2 502.5,313.0 502.8,313.1 503.4,313.6 504.0,314.4 504.9,316.2 505.8,318.1 508.2,322.3 509.4,324.0 510.9,325.7 512.4,327.4 514.2,329.8 515.1,330.7 516.9,331.9 517.8,332.2 520.2,332.0 522.6,332.7 525.6,332.9 532.5,333.8 535.2,333.4 537.9,333.4 539.7,333.2 540.3,333.4 542.4,334.5 544.8,334.1 547.2,334.8 554.7,334.0 558.3,334.4 563.4,334.6 564.6,334.7 567.0,334.1 570.0,334.4 572.1,334.4 574.5,334.9 581.4,334.4 584.1,334.1 586.5,334.5 589.2,333.7 594.9,334.3 596.7,334.6 603.9,334.7 606.3,334.3 609.0,334.4 611.4,334.2 613.8,334.6 616.2,334.1 618.6,334.6" fill="none" stroke="#30c430" stroke-width="2.2" stroke-linejoin="round"/>
<polyline points="411.9,334.1 414.3,334.8 417.0,334.4 420.3,334.6 421.8,334.6 424.2,333.8 426.6,334.7 429.6,334.1 431.7,334.1 434.1,334.9 436.5,333.9 439.5,334.0 441.6,334.3 444.0,335.0 447.3,334.7 448.8,334.4 451.2,335.1 453.9,334.2 454.8,334.1 455.1,334.4 456.6,334.6 458.1,335.1 458.7,335.7 459.0,336.1 459.3,336.8 459.6,337.9 459.9,339.2 460.2,341.0 460.5,343.6 460.8,346.5 461.1,349.6 461.4,353.0 461.7,357.1 462.0,361.7 462.6,370.1 462.9,373.9 463.2,377.4 463.5,380.8 463.8,383.3 464.1,384.9 464.4,386.0 464.7,386.5 465.0,386.0 465.3,384.8 465.6,383.3 465.9,381.0 466.2,378.1 466.5,375.0 466.8,371.7 467.4,364.3 468.0,356.7 468.3,353.1 468.6,349.6 468.9,346.5 469.2,343.8 469.5,341.3 469.8,339.2 470.1,337.7 470.4,336.2 470.7,335.1 471.0,334.5 471.6,334.1 473.4,333.5 477.6,333.2 478.8,333.4 480.9,334.1 485.1,334.5 489.0,334.5 492.0,334.4 496.2,334.4 496.8,334.2 497.4,333.7 497.7,333.3 498.0,332.3 498.3,331.1 498.6,329.7 498.9,327.8 499.2,325.7 499.5,324.0 499.8,322.7 500.7,320.1 501.3,318.8 501.6,318.4 502.2,317.9 502.5,317.8 503.1,318.0 504.0,318.7 504.9,319.9 506.1,321.7 508.8,325.3 512.4,329.1 513.9,330.6 514.8,331.3 517.2,332.7 517.8,332.9 521.1,333.1 525.6,333.5 527.7,333.4 530.1,333.7 532.5,332.8 534.9,333.6 540.0,333.7 542.7,334.5 546.9,334.8 547.8,334.6 549.6,334.2 552.3,334.6 554.7,333.9 557.4,334.4 564.9,334.5 567.0,334.8 569.4,333.9 571.8,334.5 574.5,334.3 577.2,334.5 579.3,335.0 582.0,334.9 584.1,334.6 586.5,335.3 588.3,334.8 589.2,334.5 594.0,334.9 596.7,334.3 599.4,334.5 601.5,334.8 603.9,334.0 606.3,334.3 608.7,333.8 611.1,335.2 611.7,335.1 613.8,334.4 616.2,334.7 618.6,334.0" fill="none" stroke="#d8a858" stroke-width="2.2" stroke-linejoin="round"/>
<polyline points="411.9,334.6 415.2,334.6 417.0,334.7 421.8,334.2 428.4,334.5 432.0,334.5 436.5,335.0 439.5,334.8 441.6,334.4 447.3,334.6 449.1,334.5 451.8,334.1 453.9,334.0 454.8,334.2 455.1,334.5 457.5,334.8 458.4,335.1 459.0,335.6 459.3,336.1 459.6,336.8 459.9,337.7 460.2,338.9 460.5,340.6 461.1,344.6 461.4,347.0 461.7,349.7 462.0,352.8 462.6,358.5 462.9,361.1 463.5,365.7 463.8,367.4 464.1,368.4 464.4,369.2 464.7,369.5 465.0,369.2 465.3,368.4 465.6,367.4 465.9,365.9 466.2,363.9 466.5,361.8 466.8,359.6 467.7,352.1 468.0,349.5 468.6,344.6 468.9,342.5 469.2,340.7 469.5,339.0 469.8,337.6 470.4,335.6 470.7,334.8 471.0,334.4 472.2,334.1 476.4,333.6 478.2,333.7 481.2,334.2 486.0,334.5 489.0,334.5 492.6,334.6 496.2,334.5 497.1,334.1 497.4,333.9 497.7,333.5 498.0,332.8 498.6,330.7 498.9,329.1 499.2,327.4 499.5,326.1 500.1,324.0 500.4,323.2 500.7,322.6 501.3,321.7 501.6,321.4 502.2,321.1 502.8,321.2 504.0,321.8 505.2,323.1 507.9,326.8 509.4,327.5 510.3,327.8 512.4,329.8 514.5,332.1 515.1,332.6 515.4,332.7 517.8,332.1 520.5,333.1 522.6,333.6 525.0,333.0 527.4,334.0 527.7,334.0 530.1,333.1 532.5,333.8 537.3,333.6 539.7,334.9 540.0,334.9 542.1,334.0 542.4,333.9 544.8,335.1 547.2,334.7 549.6,335.1 552.9,334.4 555.0,334.3 557.4,334.5 559.5,335.1 561.9,333.9 562.8,334.1 564.6,334.7 567.0,334.8 571.8,334.2 574.5,334.8 577.5,334.8 580.5,334.9 581.7,334.9 584.1,334.1 587.1,334.4 592.2,334.3 594.3,334.4 596.4,334.3 598.8,335.1 602.4,334.7 604.2,334.5 606.3,334.5 608.7,335.3 611.1,334.3 612.3,334.5 613.8,334.8 616.2,334.1 618.6,334.5" fill="none" stroke="#e030b8" stroke-width="2.2" stroke-linejoin="round"/>
<line x1="160.90" y1="93.60" x2="174.90" y2="93.60" stroke="#151515" stroke-width="1.7" />
<line x1="186.10" y1="93.60" x2="200.60" y2="93.60" stroke="#151515" stroke-width="1.25" stroke-dasharray="1.35,1.15"/>
<text x="207.60" y="97.00" font-size="14.5" textLength="31.40" lengthAdjust="spacingAndGlyphs" >5.6 K</text>
<line x1="160.90" y1="108.90" x2="174.90" y2="108.90" stroke="#2418d0" stroke-width="1.7" />
<line x1="186.10" y1="108.90" x2="200.60" y2="108.90" stroke="#2418d0" stroke-width="1.25" stroke-dasharray="1.35,1.15"/>
<text x="207.60" y="112.30" font-size="14.5" textLength="28.60" lengthAdjust="spacingAndGlyphs" >20 K</text>
<line x1="160.90" y1="124.10" x2="174.90" y2="124.10" stroke="#2a98cc" stroke-width="1.7" />
<line x1="186.10" y1="124.10" x2="200.60" y2="124.10" stroke="#2a98cc" stroke-width="1.25" stroke-dasharray="1.35,1.15"/>
<text x="207.60" y="127.50" font-size="14.5" textLength="28.60" lengthAdjust="spacingAndGlyphs" >50 K</text>
<line x1="160.90" y1="139.20" x2="174.90" y2="139.20" stroke="#30c83c" stroke-width="1.7" />
<line x1="186.10" y1="139.20" x2="200.60" y2="139.20" stroke="#30c83c" stroke-width="1.25" stroke-dasharray="1.35,1.15"/>
<text x="207.60" y="142.60" font-size="14.5" textLength="36.60" lengthAdjust="spacingAndGlyphs" >100 K</text>
<line x1="160.90" y1="154.60" x2="174.90" y2="154.60" stroke="#e0a848" stroke-width="1.7" />
<line x1="186.10" y1="154.60" x2="200.60" y2="154.60" stroke="#e0a848" stroke-width="1.25" stroke-dasharray="1.35,1.15"/>
<text x="207.60" y="158.00" font-size="14.5" textLength="36.60" lengthAdjust="spacingAndGlyphs" >150 K</text>
<line x1="160.90" y1="170.20" x2="174.90" y2="170.20" stroke="#cc30c8" stroke-width="1.7" />
<line x1="186.10" y1="170.20" x2="200.60" y2="170.20" stroke="#cc30c8" stroke-width="1.25" stroke-dasharray="1.35,1.15"/>
<text x="207.60" y="173.60" font-size="14.5" textLength="36.60" lengthAdjust="spacingAndGlyphs" >250 K</text>
<line x1="160.90" y1="185.60" x2="174.90" y2="185.60" stroke="#d42828" stroke-width="1.7" />
<line x1="186.10" y1="185.60" x2="200.60" y2="185.60" stroke="#d42828" stroke-width="1.25" stroke-dasharray="1.35,1.15"/>
<text x="207.60" y="189.00" font-size="14.5" textLength="36.60" lengthAdjust="spacingAndGlyphs" >300 K</text>
<line x1="433.50" y1="163.50" x2="447.80" y2="163.50" stroke="#151515" stroke-width="1.7" />
<line x1="459.20" y1="163.50" x2="473.90" y2="163.50" stroke="#151515" stroke-width="1.25" stroke-dasharray="1.35,1.15"/>
<text x="480.50" y="166.90" font-size="14.5" textLength="31.40" lengthAdjust="spacingAndGlyphs" >5.6 K</text>
<line x1="433.50" y1="179.10" x2="447.80" y2="179.10" stroke="#2418d0" stroke-width="1.7" />
<line x1="459.20" y1="179.10" x2="473.90" y2="179.10" stroke="#2418d0" stroke-width="1.25" stroke-dasharray="1.35,1.15"/>
<text x="480.50" y="182.50" font-size="14.5" textLength="28.60" lengthAdjust="spacingAndGlyphs" >20 K</text>
<line x1="433.50" y1="194.80" x2="447.80" y2="194.80" stroke="#2a98cc" stroke-width="1.7" />
<line x1="459.20" y1="194.80" x2="473.90" y2="194.80" stroke="#2a98cc" stroke-width="1.25" stroke-dasharray="1.35,1.15"/>
<text x="480.50" y="198.20" font-size="14.5" textLength="28.60" lengthAdjust="spacingAndGlyphs" >50 K</text>
<line x1="520.40" y1="148.70" x2="534.60" y2="148.70" stroke="#30c83c" stroke-width="1.7" />
<line x1="543.10" y1="148.70" x2="557.90" y2="148.70" stroke="#30c83c" stroke-width="1.25" stroke-dasharray="1.35,1.15"/>
<text x="565.00" y="152.10" font-size="14.5" textLength="32.20" lengthAdjust="spacingAndGlyphs" >100K</text>
<line x1="520.40" y1="164.00" x2="534.60" y2="164.00" stroke="#e0a848" stroke-width="1.7" />
<line x1="543.10" y1="164.00" x2="557.90" y2="164.00" stroke="#e0a848" stroke-width="1.25" stroke-dasharray="1.35,1.15"/>
<text x="565.00" y="167.40" font-size="14.5" textLength="36.60" lengthAdjust="spacingAndGlyphs" >200 K</text>
<line x1="520.40" y1="179.70" x2="534.60" y2="179.70" stroke="#cc30c8" stroke-width="1.7" />
<line x1="543.10" y1="179.70" x2="557.90" y2="179.70" stroke="#cc30c8" stroke-width="1.25" stroke-dasharray="1.35,1.15"/>
<text x="565.00" y="183.10" font-size="14.5" textLength="36.60" lengthAdjust="spacingAndGlyphs" >250 K</text>
<line x1="520.40" y1="194.80" x2="534.60" y2="194.80" stroke="#d42828" stroke-width="1.7" />
<line x1="543.10" y1="194.80" x2="557.90" y2="194.80" stroke="#d42828" stroke-width="1.25" stroke-dasharray="1.35,1.15"/>
<text x="565.00" y="198.20" font-size="14.5" textLength="36.60" lengthAdjust="spacingAndGlyphs" >300 K</text>
<line x1="161.90" y1="393.20" x2="175.90" y2="393.20" stroke="#151515" stroke-width="1.7" />
<line x1="186.60" y1="393.20" x2="201.60" y2="393.20" stroke="#151515" stroke-width="1.25" stroke-dasharray="1.35,1.15"/>
<text x="207.70" y="396.60" font-size="14.5" textLength="31.40" lengthAdjust="spacingAndGlyphs" >5.6 K</text>
<line x1="161.90" y1="408.90" x2="175.90" y2="408.90" stroke="#3a9ad8" stroke-width="1.7" />
<line x1="186.60" y1="408.90" x2="201.60" y2="408.90" stroke="#3a9ad8" stroke-width="1.25" stroke-dasharray="1.35,1.15"/>
<text x="207.70" y="412.30" font-size="14.5" textLength="28.60" lengthAdjust="spacingAndGlyphs" >50 K</text>
<line x1="161.90" y1="424.20" x2="175.90" y2="424.20" stroke="#30c430" stroke-width="1.7" />
<line x1="186.60" y1="424.20" x2="201.60" y2="424.20" stroke="#30c430" stroke-width="1.25" stroke-dasharray="1.35,1.15"/>
<text x="207.70" y="427.60" font-size="14.5" textLength="36.60" lengthAdjust="spacingAndGlyphs" >100 K</text>
<line x1="161.90" y1="439.40" x2="175.90" y2="439.40" stroke="#d8a858" stroke-width="1.7" />
<line x1="186.60" y1="439.40" x2="201.60" y2="439.40" stroke="#d8a858" stroke-width="1.25" stroke-dasharray="1.35,1.15"/>
<text x="207.70" y="442.80" font-size="14.5" textLength="36.60" lengthAdjust="spacingAndGlyphs" >150 K</text>
<line x1="161.90" y1="455.00" x2="175.90" y2="455.00" stroke="#e030b8" stroke-width="1.7" />
<line x1="186.60" y1="455.00" x2="201.60" y2="455.00" stroke="#e030b8" stroke-width="1.25" stroke-dasharray="1.35,1.15"/>
<text x="207.70" y="458.40" font-size="14.5" textLength="36.60" lengthAdjust="spacingAndGlyphs" >250 K</text>
<line x1="437.80" y1="463.30" x2="452.00" y2="463.30" stroke="#151515" stroke-width="1.7" />
<line x1="461.40" y1="463.30" x2="476.20" y2="463.30" stroke="#151515" stroke-width="1.25" stroke-dasharray="1.35,1.15"/>
<text x="483.40" y="466.70" font-size="14.5" textLength="31.40" lengthAdjust="spacingAndGlyphs" >5.6 K</text>
<line x1="437.80" y1="478.90" x2="452.00" y2="478.90" stroke="#3a9ad8" stroke-width="1.7" />
<line x1="461.40" y1="478.90" x2="476.20" y2="478.90" stroke="#3a9ad8" stroke-width="1.25" stroke-dasharray="1.35,1.15"/>
<text x="483.40" y="482.30" font-size="14.5" textLength="28.60" lengthAdjust="spacingAndGlyphs" >50 K</text>
<line x1="523.20" y1="447.60" x2="537.40" y2="447.60" stroke="#30c430" stroke-width="1.7" />
<line x1="546.00" y1="447.60" x2="560.70" y2="447.60" stroke="#30c430" stroke-width="1.25" stroke-dasharray="1.35,1.15"/>
<text x="567.30" y="451.00" font-size="14.5" textLength="36.60" lengthAdjust="spacingAndGlyphs" >100 K</text>
<line x1="523.20" y1="463.30" x2="537.40" y2="463.30" stroke="#d8a858" stroke-width="1.7" />
<line x1="546.00" y1="463.30" x2="560.70" y2="463.30" stroke="#d8a858" stroke-width="1.25" stroke-dasharray="1.35,1.15"/>
<text x="567.30" y="466.70" font-size="14.5" textLength="36.60" lengthAdjust="spacingAndGlyphs" >150 K</text>
<line x1="523.20" y1="478.90" x2="537.40" y2="478.90" stroke="#e030b8" stroke-width="1.7" />
<line x1="546.00" y1="478.90" x2="560.70" y2="478.90" stroke="#e030b8" stroke-width="1.25" stroke-dasharray="1.35,1.15"/>
<text x="567.30" y="482.30" font-size="14.5" textLength="36.60" lengthAdjust="spacingAndGlyphs" >250 K</text>
<text x="76.60" y="11.30" font-size="16" textLength="156.00" lengthAdjust="spacingAndGlyphs">Sample A (<tspan font-style="italic">T</tspan><tspan font-size="11.5" dy="4.3">C</tspan><tspan dy="-4.3"> = 20 K)</tspan></text>
<text x="437.40" y="11.30" font-size="16" textLength="156.40" lengthAdjust="spacingAndGlyphs">Sample A (<tspan font-style="italic">T</tspan><tspan font-size="11.5" dy="4.3">C</tspan><tspan dy="-4.3"> = 20 K)</tspan></text>
<text x="71.20" y="294.30" font-size="16" textLength="166.30" lengthAdjust="spacingAndGlyphs">Sample B (<tspan font-style="italic">T</tspan><tspan font-size="11.5" dy="4.3">C</tspan><tspan dy="-4.3"> = 100 K)</tspan></text>
<text x="432.50" y="294.20" font-size="16" textLength="167.20" lengthAdjust="spacingAndGlyphs">Sample B (<tspan font-style="italic">T</tspan><tspan font-size="11.5" dy="4.3">C</tspan><tspan dy="-4.3"> = 100 K)</tspan></text>
<text x="61.00" y="43.00" font-size="19.5" textLength="23.50" lengthAdjust="spacingAndGlyphs" >(a)</text>
<text x="93.30" y="40.50" font-size="14.5" textLength="68.90" lengthAdjust="spacingAndGlyphs"><tspan font-style="italic">μ</tspan><tspan font-size="11" dy="3">0</tspan><tspan font-style="italic" dy="-3">H</tspan> = 5 T</text>
<text x="416.60" y="39.60" font-size="19.5" textLength="24.60" lengthAdjust="spacingAndGlyphs" >(b)</text>
<text x="534.60" y="39.70" font-size="14.5" textLength="69.30" lengthAdjust="spacingAndGlyphs"><tspan font-style="italic">μ</tspan><tspan font-size="11" dy="3">0</tspan><tspan font-style="italic" dy="-3">H</tspan> = 5 T</text>
<text x="60.50" y="324.00" font-size="19.5" textLength="22.00" lengthAdjust="spacingAndGlyphs" >(c)</text>
<text x="88.70" y="322.60" font-size="14.5" textLength="67.80" lengthAdjust="spacingAndGlyphs"><tspan font-style="italic">μ</tspan><tspan font-size="11" dy="3">0</tspan><tspan font-style="italic" dy="-3">H</tspan> = 5 T</text>
<text x="419.20" y="322.90" font-size="19.5" textLength="24.80" lengthAdjust="spacingAndGlyphs" >(d)</text>
<text x="540.40" y="324.10" font-size="14.5" textLength="67.90" lengthAdjust="spacingAndGlyphs"><tspan font-style="italic">μ</tspan><tspan font-size="11" dy="3">0</tspan><tspan font-style="italic" dy="-3">H</tspan> = 5 T</text>
<line x1="52.35" y1="212.20" x2="52.35" y2="209.00" stroke="#000" stroke-width="1.2" />
<line x1="52.35" y1="18.50" x2="52.35" y2="21.70" stroke="#000" stroke-width="1.2" />
<line x1="81.80" y1="212.20" x2="81.80" y2="206.20" stroke="#000" stroke-width="1.2" />
<line x1="81.80" y1="18.50" x2="81.80" y2="24.50" stroke="#000" stroke-width="1.2" />
<line x1="111.25" y1="212.20" x2="111.25" y2="209.00" stroke="#000" stroke-width="1.2" />
<line x1="111.25" y1="18.50" x2="111.25" y2="21.70" stroke="#000" stroke-width="1.2" />
<line x1="140.70" y1="212.20" x2="140.70" y2="206.20" stroke="#000" stroke-width="1.2" />
<line x1="140.70" y1="18.50" x2="140.70" y2="24.50" stroke="#000" stroke-width="1.2" />
<line x1="170.15" y1="212.20" x2="170.15" y2="209.00" stroke="#000" stroke-width="1.2" />
<line x1="170.15" y1="18.50" x2="170.15" y2="21.70" stroke="#000" stroke-width="1.2" />
<line x1="199.60" y1="212.20" x2="199.60" y2="206.20" stroke="#000" stroke-width="1.2" />
<line x1="199.60" y1="18.50" x2="199.60" y2="24.50" stroke="#000" stroke-width="1.2" />
<line x1="229.05" y1="212.20" x2="229.05" y2="209.00" stroke="#000" stroke-width="1.2" />
<line x1="229.05" y1="18.50" x2="229.05" y2="21.70" stroke="#000" stroke-width="1.2" />
<line x1="258.50" y1="212.20" x2="258.50" y2="206.20" stroke="#000" stroke-width="1.2" />
<line x1="258.50" y1="18.50" x2="258.50" y2="24.50" stroke="#000" stroke-width="1.2" />
<rect x="50.20" y="18.50" width="210.40" height="193.70" fill="none" stroke="#000" stroke-width="1.4"/>
<line x1="414.83" y1="210.30" x2="414.83" y2="207.10" stroke="#000" stroke-width="1.2" />
<line x1="414.83" y1="18.90" x2="414.83" y2="22.10" stroke="#000" stroke-width="1.2" />
<line x1="444.00" y1="210.30" x2="444.00" y2="204.30" stroke="#000" stroke-width="1.2" />
<line x1="444.00" y1="18.90" x2="444.00" y2="24.90" stroke="#000" stroke-width="1.2" />
<line x1="473.17" y1="210.30" x2="473.17" y2="207.10" stroke="#000" stroke-width="1.2" />
<line x1="473.17" y1="18.90" x2="473.17" y2="22.10" stroke="#000" stroke-width="1.2" />
<line x1="502.34" y1="210.30" x2="502.34" y2="204.30" stroke="#000" stroke-width="1.2" />
<line x1="502.34" y1="18.90" x2="502.34" y2="24.90" stroke="#000" stroke-width="1.2" />
<line x1="531.51" y1="210.30" x2="531.51" y2="207.10" stroke="#000" stroke-width="1.2" />
<line x1="531.51" y1="18.90" x2="531.51" y2="22.10" stroke="#000" stroke-width="1.2" />
<line x1="560.68" y1="210.30" x2="560.68" y2="204.30" stroke="#000" stroke-width="1.2" />
<line x1="560.68" y1="18.90" x2="560.68" y2="24.90" stroke="#000" stroke-width="1.2" />
<line x1="589.85" y1="210.30" x2="589.85" y2="207.10" stroke="#000" stroke-width="1.2" />
<line x1="589.85" y1="18.90" x2="589.85" y2="22.10" stroke="#000" stroke-width="1.2" />
<line x1="619.02" y1="210.30" x2="619.02" y2="204.30" stroke="#000" stroke-width="1.2" />
<line x1="619.02" y1="18.90" x2="619.02" y2="24.90" stroke="#000" stroke-width="1.2" />
<rect x="413.00" y="18.90" width="207.40" height="191.40" fill="none" stroke="#000" stroke-width="1.4"/>
<line x1="52.20" y1="496.30" x2="52.20" y2="493.10" stroke="#000" stroke-width="1.2" />
<line x1="52.20" y1="301.50" x2="52.20" y2="304.70" stroke="#000" stroke-width="1.2" />
<line x1="82.00" y1="496.30" x2="82.00" y2="490.30" stroke="#000" stroke-width="1.2" />
<line x1="82.00" y1="301.50" x2="82.00" y2="307.50" stroke="#000" stroke-width="1.2" />
<line x1="111.80" y1="496.30" x2="111.80" y2="493.10" stroke="#000" stroke-width="1.2" />
<line x1="111.80" y1="301.50" x2="111.80" y2="304.70" stroke="#000" stroke-width="1.2" />
<line x1="141.60" y1="496.30" x2="141.60" y2="490.30" stroke="#000" stroke-width="1.2" />
<line x1="141.60" y1="301.50" x2="141.60" y2="307.50" stroke="#000" stroke-width="1.2" />
<line x1="171.40" y1="496.30" x2="171.40" y2="493.10" stroke="#000" stroke-width="1.2" />
<line x1="171.40" y1="301.50" x2="171.40" y2="304.70" stroke="#000" stroke-width="1.2" />
<line x1="201.20" y1="496.30" x2="201.20" y2="490.30" stroke="#000" stroke-width="1.2" />
<line x1="201.20" y1="301.50" x2="201.20" y2="307.50" stroke="#000" stroke-width="1.2" />
<line x1="231.00" y1="496.30" x2="231.00" y2="493.10" stroke="#000" stroke-width="1.2" />
<line x1="231.00" y1="301.50" x2="231.00" y2="304.70" stroke="#000" stroke-width="1.2" />
<line x1="260.80" y1="496.30" x2="260.80" y2="490.30" stroke="#000" stroke-width="1.2" />
<line x1="260.80" y1="301.50" x2="260.80" y2="307.50" stroke="#000" stroke-width="1.2" />
<rect x="50.60" y="301.50" width="211.20" height="194.80" fill="none" stroke="#000" stroke-width="1.4"/>
<line x1="413.47" y1="493.70" x2="413.47" y2="490.50" stroke="#000" stroke-width="1.2" />
<line x1="413.47" y1="301.20" x2="413.47" y2="304.40" stroke="#000" stroke-width="1.2" />
<line x1="442.60" y1="493.70" x2="442.60" y2="487.70" stroke="#000" stroke-width="1.2" />
<line x1="442.60" y1="301.20" x2="442.60" y2="307.20" stroke="#000" stroke-width="1.2" />
<line x1="471.73" y1="493.70" x2="471.73" y2="490.50" stroke="#000" stroke-width="1.2" />
<line x1="471.73" y1="301.20" x2="471.73" y2="304.40" stroke="#000" stroke-width="1.2" />
<line x1="500.86" y1="493.70" x2="500.86" y2="487.70" stroke="#000" stroke-width="1.2" />
<line x1="500.86" y1="301.20" x2="500.86" y2="307.20" stroke="#000" stroke-width="1.2" />
<line x1="529.99" y1="493.70" x2="529.99" y2="490.50" stroke="#000" stroke-width="1.2" />
<line x1="529.99" y1="301.20" x2="529.99" y2="304.40" stroke="#000" stroke-width="1.2" />
<line x1="559.12" y1="493.70" x2="559.12" y2="487.70" stroke="#000" stroke-width="1.2" />
<line x1="559.12" y1="301.20" x2="559.12" y2="307.20" stroke="#000" stroke-width="1.2" />
<line x1="588.25" y1="493.70" x2="588.25" y2="490.50" stroke="#000" stroke-width="1.2" />
<line x1="588.25" y1="301.20" x2="588.25" y2="304.40" stroke="#000" stroke-width="1.2" />
<line x1="617.38" y1="493.70" x2="617.38" y2="487.70" stroke="#000" stroke-width="1.2" />
<line x1="617.38" y1="301.20" x2="617.38" y2="307.20" stroke="#000" stroke-width="1.2" />
<rect x="411.20" y="301.20" width="208.30" height="192.50" fill="none" stroke="#000" stroke-width="1.4"/>
<line x1="50.20" y1="206.50" x2="56.70" y2="206.50" stroke="#000" stroke-width="1.2" />
<line x1="50.20" y1="165.70" x2="56.70" y2="165.70" stroke="#000" stroke-width="1.2" />
<line x1="50.20" y1="124.90" x2="56.70" y2="124.90" stroke="#000" stroke-width="1.2" />
<line x1="50.20" y1="84.10" x2="56.70" y2="84.10" stroke="#000" stroke-width="1.2" />
<line x1="50.20" y1="43.30" x2="56.70" y2="43.30" stroke="#000" stroke-width="1.2" />
<line x1="260.60" y1="205.60" x2="254.10" y2="205.60" stroke="#000" stroke-width="1.2" />
<line x1="260.60" y1="176.50" x2="254.10" y2="176.50" stroke="#000" stroke-width="1.2" />
<line x1="260.60" y1="147.40" x2="254.10" y2="147.40" stroke="#000" stroke-width="1.2" />
<line x1="260.60" y1="118.30" x2="254.10" y2="118.30" stroke="#000" stroke-width="1.2" />
<line x1="260.60" y1="89.20" x2="254.10" y2="89.20" stroke="#000" stroke-width="1.2" />
<line x1="260.60" y1="60.10" x2="254.10" y2="60.10" stroke="#000" stroke-width="1.2" />
<line x1="260.60" y1="31.00" x2="254.10" y2="31.00" stroke="#000" stroke-width="1.2" />
<line x1="413.00" y1="49.70" x2="419.50" y2="49.70" stroke="#000" stroke-width="1.2" />
<line x1="413.00" y1="85.70" x2="419.50" y2="85.70" stroke="#000" stroke-width="1.2" />
<line x1="413.00" y1="121.70" x2="419.50" y2="121.70" stroke="#000" stroke-width="1.2" />
<line x1="413.00" y1="157.70" x2="419.50" y2="157.70" stroke="#000" stroke-width="1.2" />
<line x1="413.00" y1="193.70" x2="419.50" y2="193.70" stroke="#000" stroke-width="1.2" />
<line x1="620.40" y1="79.60" x2="613.90" y2="79.60" stroke="#000" stroke-width="1.2" />
<line x1="620.40" y1="110.10" x2="613.90" y2="110.10" stroke="#000" stroke-width="1.2" />
<line x1="620.40" y1="140.60" x2="613.90" y2="140.60" stroke="#000" stroke-width="1.2" />
<line x1="620.40" y1="171.10" x2="613.90" y2="171.10" stroke="#000" stroke-width="1.2" />
<line x1="620.40" y1="201.60" x2="613.90" y2="201.60" stroke="#000" stroke-width="1.2" />
<line x1="50.60" y1="490.60" x2="57.10" y2="490.60" stroke="#000" stroke-width="1.2" />
<line x1="50.60" y1="465.67" x2="57.10" y2="465.67" stroke="#000" stroke-width="1.2" />
<line x1="50.60" y1="440.74" x2="57.10" y2="440.74" stroke="#000" stroke-width="1.2" />
<line x1="50.60" y1="415.82" x2="57.10" y2="415.82" stroke="#000" stroke-width="1.2" />
<line x1="50.60" y1="390.89" x2="57.10" y2="390.89" stroke="#000" stroke-width="1.2" />
<line x1="50.60" y1="365.96" x2="57.10" y2="365.96" stroke="#000" stroke-width="1.2" />
<line x1="50.60" y1="341.03" x2="57.10" y2="341.03" stroke="#000" stroke-width="1.2" />
<line x1="50.60" y1="316.10" x2="57.10" y2="316.10" stroke="#000" stroke-width="1.2" />
<line x1="261.80" y1="489.80" x2="255.30" y2="489.80" stroke="#000" stroke-width="1.2" />
<line x1="261.80" y1="455.94" x2="255.30" y2="455.94" stroke="#000" stroke-width="1.2" />
<line x1="261.80" y1="422.08" x2="255.30" y2="422.08" stroke="#000" stroke-width="1.2" />
<line x1="261.80" y1="388.22" x2="255.30" y2="388.22" stroke="#000" stroke-width="1.2" />
<line x1="261.80" y1="354.36" x2="255.30" y2="354.36" stroke="#000" stroke-width="1.2" />
<line x1="261.80" y1="320.50" x2="255.30" y2="320.50" stroke="#000" stroke-width="1.2" />
<line x1="411.20" y1="334.60" x2="417.70" y2="334.60" stroke="#000" stroke-width="1.2" />
<line x1="411.20" y1="373.75" x2="417.70" y2="373.75" stroke="#000" stroke-width="1.2" />
<line x1="411.20" y1="412.90" x2="417.70" y2="412.90" stroke="#000" stroke-width="1.2" />
<line x1="411.20" y1="452.05" x2="417.70" y2="452.05" stroke="#000" stroke-width="1.2" />
<line x1="411.20" y1="491.20" x2="417.70" y2="491.20" stroke="#000" stroke-width="1.2" />
<line x1="619.50" y1="369.30" x2="613.00" y2="369.30" stroke="#000" stroke-width="1.2" />
<line x1="619.50" y1="404.50" x2="613.00" y2="404.50" stroke="#000" stroke-width="1.2" />
<line x1="619.50" y1="439.70" x2="613.00" y2="439.70" stroke="#000" stroke-width="1.2" />
<line x1="619.50" y1="474.90" x2="613.00" y2="474.90" stroke="#000" stroke-width="1.2" />
<text x="81.80" y="232.70" font-size="16.5" text-anchor="middle" textLength="27.00" lengthAdjust="spacingAndGlyphs" >700</text>
<text x="140.70" y="232.70" font-size="16.5" text-anchor="middle" textLength="27.00" lengthAdjust="spacingAndGlyphs" >720</text>
<text x="199.60" y="232.70" font-size="16.5" text-anchor="middle" textLength="27.00" lengthAdjust="spacingAndGlyphs" >740</text>
<text x="258.50" y="232.70" font-size="16.5" text-anchor="middle" textLength="27.00" lengthAdjust="spacingAndGlyphs" >760</text>
<text x="444.00" y="230.50" font-size="16.5" text-anchor="middle" textLength="27.00" lengthAdjust="spacingAndGlyphs" >700</text>
<text x="502.34" y="230.50" font-size="16.5" text-anchor="middle" textLength="27.00" lengthAdjust="spacingAndGlyphs" >720</text>
<text x="560.68" y="230.50" font-size="16.5" text-anchor="middle" textLength="27.00" lengthAdjust="spacingAndGlyphs" >740</text>
<text x="619.02" y="230.50" font-size="16.5" text-anchor="middle" textLength="27.00" lengthAdjust="spacingAndGlyphs" >760</text>
<text x="82.00" y="516.70" font-size="16.5" text-anchor="middle" textLength="27.00" lengthAdjust="spacingAndGlyphs" >700</text>
<text x="141.60" y="516.70" font-size="16.5" text-anchor="middle" textLength="27.00" lengthAdjust="spacingAndGlyphs" >720</text>
<text x="201.20" y="516.70" font-size="16.5" text-anchor="middle" textLength="27.00" lengthAdjust="spacingAndGlyphs" >740</text>
<text x="260.80" y="516.70" font-size="16.5" text-anchor="middle" textLength="27.00" lengthAdjust="spacingAndGlyphs" >760</text>
<text x="442.60" y="514.20" font-size="16.5" text-anchor="middle" textLength="27.00" lengthAdjust="spacingAndGlyphs" >700</text>
<text x="500.86" y="514.20" font-size="16.5" text-anchor="middle" textLength="27.00" lengthAdjust="spacingAndGlyphs" >720</text>
<text x="559.12" y="514.20" font-size="16.5" text-anchor="middle" textLength="27.00" lengthAdjust="spacingAndGlyphs" >740</text>
<text x="617.38" y="514.20" font-size="16.5" text-anchor="middle" textLength="27.00" lengthAdjust="spacingAndGlyphs" >760</text>
<text x="45.90" y="212.10" font-size="16" text-anchor="end" textLength="8.00" lengthAdjust="spacingAndGlyphs" >0</text>
<text x="45.90" y="171.30" font-size="16" text-anchor="end" textLength="27.30" lengthAdjust="spacingAndGlyphs" >0.02</text>
<text x="45.90" y="130.50" font-size="16" text-anchor="end" textLength="27.30" lengthAdjust="spacingAndGlyphs" >0.04</text>
<text x="45.90" y="89.70" font-size="16" text-anchor="end" textLength="27.30" lengthAdjust="spacingAndGlyphs" >0.06</text>
<text x="45.90" y="48.90" font-size="16" text-anchor="end" textLength="27.30" lengthAdjust="spacingAndGlyphs" >0.08</text>
<text x="264.70" y="211.20" font-size="16" textLength="27.70" lengthAdjust="spacingAndGlyphs" >0.00</text>
<text x="264.70" y="182.10" font-size="16" textLength="27.70" lengthAdjust="spacingAndGlyphs" >0.05</text>
<text x="264.70" y="153.00" font-size="16" textLength="27.70" lengthAdjust="spacingAndGlyphs" >0.10</text>
<text x="264.70" y="123.90" font-size="16" textLength="27.70" lengthAdjust="spacingAndGlyphs" >0.15</text>
<text x="264.70" y="94.80" font-size="16" textLength="27.70" lengthAdjust="spacingAndGlyphs" >0.20</text>
<text x="264.70" y="65.70" font-size="16" textLength="27.70" lengthAdjust="spacingAndGlyphs" >0.25</text>
<text x="264.70" y="36.60" font-size="16" textLength="27.70" lengthAdjust="spacingAndGlyphs" >0.30</text>
<text x="407.70" y="55.90" font-size="16" text-anchor="end" textLength="7.50" lengthAdjust="spacingAndGlyphs" >0</text>
<text x="407.70" y="91.90" font-size="16" text-anchor="end" textLength="44.50" lengthAdjust="spacingAndGlyphs" >−0.005</text>
<text x="407.70" y="127.90" font-size="16" text-anchor="end" textLength="35.40" lengthAdjust="spacingAndGlyphs" >−0.01</text>
<text x="407.70" y="163.90" font-size="16" text-anchor="end" textLength="44.50" lengthAdjust="spacingAndGlyphs" >−0.015</text>
<text x="407.70" y="199.90" font-size="16" text-anchor="end" textLength="35.40" lengthAdjust="spacingAndGlyphs" >−0.02</text>
<text x="624.80" y="85.20" font-size="16" textLength="35.40" lengthAdjust="spacingAndGlyphs" >−0.01</text>
<text x="624.80" y="115.70" font-size="16" textLength="35.40" lengthAdjust="spacingAndGlyphs" >−0.02</text>
<text x="624.80" y="146.20" font-size="16" textLength="35.40" lengthAdjust="spacingAndGlyphs" >−0.03</text>
<text x="624.80" y="176.70" font-size="16" textLength="35.40" lengthAdjust="spacingAndGlyphs" >−0.04</text>
<text x="624.80" y="207.20" font-size="16" textLength="35.40" lengthAdjust="spacingAndGlyphs" >−0.05</text>
<text x="634.10" y="54.70" font-size="16" textLength="7.50" lengthAdjust="spacingAndGlyphs" >0</text>
<text x="45.60" y="496.20" font-size="16" text-anchor="end" textLength="8.00" lengthAdjust="spacingAndGlyphs" >0</text>
<text x="45.60" y="471.27" font-size="16" text-anchor="end" textLength="26.50" lengthAdjust="spacingAndGlyphs" >0.02</text>
<text x="45.60" y="446.34" font-size="16" text-anchor="end" textLength="26.50" lengthAdjust="spacingAndGlyphs" >0.04</text>
<text x="45.60" y="421.42" font-size="16" text-anchor="end" textLength="26.50" lengthAdjust="spacingAndGlyphs" >0.06</text>
<text x="45.60" y="396.49" font-size="16" text-anchor="end" textLength="26.50" lengthAdjust="spacingAndGlyphs" >0.08</text>
<text x="45.60" y="371.56" font-size="16" text-anchor="end" textLength="26.50" lengthAdjust="spacingAndGlyphs" >0.10</text>
<text x="45.60" y="346.63" font-size="16" text-anchor="end" textLength="26.50" lengthAdjust="spacingAndGlyphs" >0.12</text>
<text x="45.60" y="321.70" font-size="16" text-anchor="end" textLength="26.50" lengthAdjust="spacingAndGlyphs" >0.14</text>
<text x="265.40" y="495.40" font-size="16" textLength="19.50" lengthAdjust="spacingAndGlyphs" >0.0</text>
<text x="265.40" y="461.54" font-size="16" textLength="19.50" lengthAdjust="spacingAndGlyphs" >0.1</text>
<text x="265.40" y="427.68" font-size="16" textLength="19.50" lengthAdjust="spacingAndGlyphs" >0.2</text>
<text x="265.40" y="393.82" font-size="16" textLength="19.50" lengthAdjust="spacingAndGlyphs" >0.3</text>
<text x="265.40" y="359.96" font-size="16" textLength="19.50" lengthAdjust="spacingAndGlyphs" >0.4</text>
<text x="265.40" y="326.10" font-size="16" textLength="19.50" lengthAdjust="spacingAndGlyphs" >0.5</text>
<text x="406.80" y="340.70" font-size="16" text-anchor="end" textLength="7.50" lengthAdjust="spacingAndGlyphs" >0</text>
<text x="406.80" y="379.85" font-size="16" text-anchor="end" textLength="35.30" lengthAdjust="spacingAndGlyphs" >−0.01</text>
<text x="406.80" y="419.00" font-size="16" text-anchor="end" textLength="35.30" lengthAdjust="spacingAndGlyphs" >−0.02</text>
<text x="406.80" y="458.15" font-size="16" text-anchor="end" textLength="35.30" lengthAdjust="spacingAndGlyphs" >−0.03</text>
<text x="406.80" y="497.30" font-size="16" text-anchor="end" textLength="35.30" lengthAdjust="spacingAndGlyphs" >−0.04</text>
<text x="624.30" y="374.90" font-size="16" textLength="35.30" lengthAdjust="spacingAndGlyphs" >−0.02</text>
<text x="624.30" y="410.10" font-size="16" textLength="35.30" lengthAdjust="spacingAndGlyphs" >−0.04</text>
<text x="624.30" y="445.30" font-size="16" textLength="35.30" lengthAdjust="spacingAndGlyphs" >−0.06</text>
<text x="624.30" y="480.50" font-size="16" textLength="35.30" lengthAdjust="spacingAndGlyphs" >−0.08</text>
<text x="634.00" y="339.70" font-size="16" textLength="7.50" lengthAdjust="spacingAndGlyphs" >0</text>
<text x="75.20" y="258.60" font-size="17" textLength="160.00" lengthAdjust="spacingAndGlyphs" >Photon Energy (eV)</text>
<text x="436.80" y="256.90" font-size="17" textLength="160.00" lengthAdjust="spacingAndGlyphs" >Photon Energy (eV)</text>
<text x="75.80" y="542.70" font-size="17" textLength="161.00" lengthAdjust="spacingAndGlyphs" >Photon Energy (eV)</text>
<text x="435.00" y="540.70" font-size="17" textLength="160.50" lengthAdjust="spacingAndGlyphs" >Photon Energy (eV)</text>
<text x="13.20" y="170.30" font-size="15.5" textLength="108.70" lengthAdjust="spacingAndGlyphs" transform="rotate(-90 13.20 170.30)" >XAS (arb. units)</text>
<text x="315.00" y="214.40" font-size="15.5" textLength="185.10" lengthAdjust="spacingAndGlyphs" transform="rotate(-90 315.00 214.40)" >Integrated XAS (arb. units)</text>
<text x="354.60" y="173.00" font-size="15.5" textLength="123.10" lengthAdjust="spacingAndGlyphs" transform="rotate(-90 354.60 173.00)" >XMCD (arb. units)</text>
<text x="680.70" y="219.90" font-size="15.5" textLength="198.10" lengthAdjust="spacingAndGlyphs" transform="rotate(-90 680.70 219.90)" >Integrated XMCD (arb. units)</text>
<text x="12.90" y="453.10" font-size="15.5" textLength="109.00" lengthAdjust="spacingAndGlyphs" transform="rotate(-90 12.90 453.10)" >XAS (arb. units)</text>
<text x="307.70" y="496.00" font-size="15.5" textLength="185.60" lengthAdjust="spacingAndGlyphs" transform="rotate(-90 307.70 496.00)" >Integrated XAS (arb. units)</text>
<text x="363.90" y="455.90" font-size="15.5" textLength="122.90" lengthAdjust="spacingAndGlyphs" transform="rotate(-90 363.90 455.90)" >XMCD (arb. units)</text>
<text x="682.40" y="503.10" font-size="15.5" textLength="199.00" lengthAdjust="spacingAndGlyphs" transform="rotate(-90 682.40 503.10)" >Integrated XMCD (arb. units)</text>
</svg>
</body></html>
